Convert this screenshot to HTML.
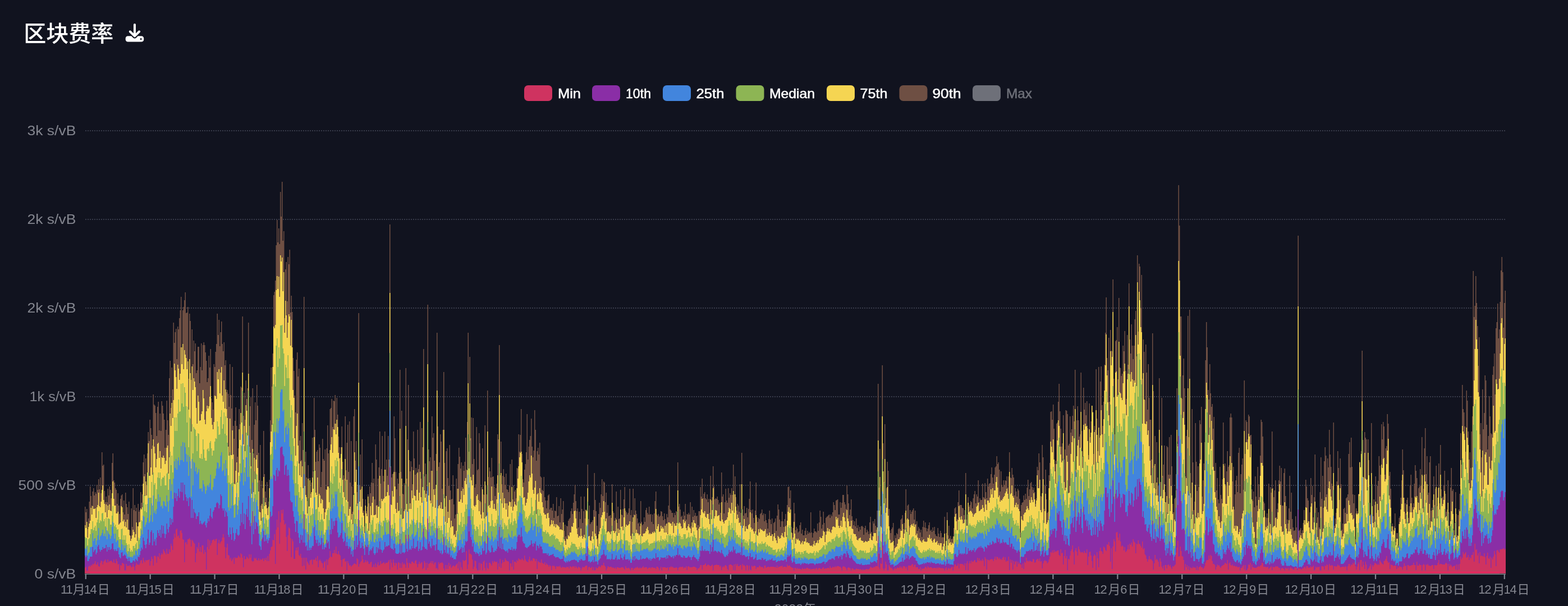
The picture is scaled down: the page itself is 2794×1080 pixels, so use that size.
<!DOCTYPE html>
<html lang="zh-CN"><head><meta charset="utf-8"><title>区块费率</title>
<style>
html,body{margin:0;padding:0;background:#11131f;}
body{width:2794px;height:1080px;overflow:hidden;position:relative;font-family:"Liberation Sans","Noto Sans CJK SC",sans-serif;}
h1{position:absolute;left:42.3px;top:30.5px;margin:0;font-size:40px;line-height:58px;font-weight:500;color:#fff;white-space:nowrap;}
</style></head><body>
<h1>区块费率</h1>
<svg width="2794" height="1080" viewBox="0 0 2794 1080" style="position:absolute;left:0;top:0"><line x1="152" x2="2683" y1="233" y2="233" stroke="#383b4a" stroke-width="2" stroke-dasharray="2 2"/><line x1="152" x2="2683" y1="391" y2="391" stroke="#383b4a" stroke-width="2" stroke-dasharray="2 2"/><line x1="152" x2="2683" y1="549" y2="549" stroke="#383b4a" stroke-width="2" stroke-dasharray="2 2"/><line x1="152" x2="2683" y1="707" y2="707" stroke="#383b4a" stroke-width="2" stroke-dasharray="2 2"/><line x1="152" x2="2683" y1="865" y2="865" stroke="#383b4a" stroke-width="2" stroke-dasharray="2 2"/><g><path fill="#6e4f43" d="M151 1022v-119h1.5v10h1.5v-6h1.5v36h1.5v-19h1.5v-30h1.5v-27h1.5v17h1.5v17h1.5v-25h1.5v-6h1.5v13h1.5v-6h1.5v3h1.5v-16h1.5v9h1.5v-19h1.5v18h1.5v-21h1.5v28h1.5v-73h1.5v24h1.5v-2h1.5v47h1.5v20h1.5v-10h1.5v10h1.5v-24h1.5v12h1.5v-16h1.5v6h1.5v15h1.5v-63h1.5v-17h1.5v48h1.5v4h1.5v10h1.5v3h1.5v25h1.5v-19h1.5v22h1.5v15h1.5v-27h1.5v-6h1.5v-2h1.5v32h1.5v-21h1.5v25h1.5v-39h1.5v20h1.5v6h1.5v12h1.5v-22h1.5v51h1.5v10h1.5v-49h1.5v33h1.5v-69h1.5v39h1.5v-9h1.5v11h1.5v-6h1.5v33h1.5v-40h1.5v14h1.5v-3h1.5v-32h1.5v19h1.5v-15h1.5v-57h1.5v-14h1.5v35h1.5v-28h1.5v48h1.5v-57h1.5v-38h1.5v16h1.5v-38h1.5v15h1.5v12h1.5v19h1.5v-91h1.5v18h1.5v2h1.5v13h1.5v41h1.5v-52h1.5v-9h1.5v51h1.5v-30h1.5v31h1.5v-53h1.5v8h1.5v14h1.5v11h1.5v50h1.5v-32h1.5v-52h1.5v35h1.5v26h1.5v-101h1.5v-31h1.5v84h1.5v-72h1.5v39h1.5v-119h1.5v36h1.5v-19h1.5v-6h1.5v54h1.5v-58h1.5v5h1.5v-20h1.5v-14h1.5v-24h1.5v90h1.5v-66h1.5v-6h1.5v-12h1.5v-14h1.5v37h1.5v-1h1.5v-10h1.5v128h1.5v-116h1.5v13h1.5v105h1.5v-90h1.5v62h1.5v-42h1.5v19h1.5v-14h1.5v53h1.5v-5h1.5v-42h3v65h1.5v-29h1.5v-42h1.5v48h1.5v-45h1.5v-5h1.5v5h1.5v13h1.5v15h1.5v38h1.5v-7h1.5v-40h1.5v21h1.5v-33h1.5v88h1.5v7h1.5v13h1.5v-81h1.5v5h1.5v-27h1.5v-14h1.5v-54h1.5v38h1.5v-27h1.5v47h1.5v-25h1.5v-19h1.5v40h1.5v13h1.5v-16h1.5v41h1.5v-9h1.5v57h1.5v-4h1.5v7h1.5v23h1.5v-76h1.5v55h1.5v24h1.5v-74h1.5v105h1.5v23h1.5v-32h1.5v-24h1.5v33h1.5v55h1.5v-15h1.5v-70h1.5v27h1.5v-67h1.5v2h1.5v-127h1.5v177h1.5v-41h1.5v48h1.5v-70h1.5v33h1.5v-19h1.5v-117h1.5v184h1.5v-35h1.5v-16h1.5v76h1.5v-92h1.5v116h1.5v-51h1.5v-40h1.5v32h1.5v-63h1.5v37h1.5v84h1.5v49h1.5v-63h1.5v108h1.5v-44h1.5v13h1.5v-102h1.5v77h1.5v31h1.5v11h1.5v-28h1.5v46h1.5v-11h1.5v-39h1.5v-106h1.5v-94h1.5v34h1.5v-59h1.5v-104h1.5v-6h1.5v-20h1.5v-63h1.5v-45h1.5v40h1.5v-25h1.5v28h1.5v-93h1.5v44h1.5v-62h1.5v105h1.5v-17h1.5v155h1.5v-87h1.5v-13h1.5v70h1.5v-79h1.5v13h1.5v-26h1.5v112h1.5v-30h1.5v29h1.5v82h1.5v23h1.5v44h1.5v30h1.5v-94h1.5v-13h1.5v43h1.5v-14h1.5v128h1.5v-8h1.5v43h1.5v-66h1.5v48h1.5v-273h1.5v294h1.5v-18h1.5v46h1.5v42h1.5v-64h1.5v73h1.5v-50h1.5v28h1.5v-20h1.5v-80h1.5v60h1.5v-131h1.5v57h1.5v57h1.5v-18h1.5v-3h1.5v20h1.5v-30h1.5v6h1.5v70h1.5v-27h1.5v-59h1.5v36h1.5v3h1.5v-20h1.5v71h1.5v-73h1.5v-41h1.5v50h1.5v62h1.5v-141h1.5v-2h1.5v-16h1.5v50h1.5v-47h1.5v1h1.5v-11h1.5v51h1.5v-46h1.5v30h1.5v39h1.5v19h1.5v19h1.5v-19h1.5v-37h1.5v63h1.5v24h1.5v6h1.5v-111h1.5v96h1.5v-49h1.5v-32h1.5v84h1.5v-90h1.5v109h1.5v-74h1.5v81h1.5v45h1.5v-170h1.5v-13h1.5v92h1.5v-35h1.5v91h1.5v-13h1.5v-306h1.5v307h1.5v-55h1.5v61h1.5v-88h1.5v106h1.5v21h1.5v28h1.5v-48h1.5v21h1.5v-8h1.5v-22h1.5v16h1.5v-30h1.5v12h1.5v-19h1.5v-35h1.5v36h1.5v-8h1.5v37h1.5v-98h1.5v27h1.5v81h1.5v-47h1.5v-20h1.5v-64h1.5v93h1.5v-26h1.5v-59h1.5v71h1.5v10h1.5v-89h1.5v68h1.5v-18h1.5v29h1.5v-71h1.5v42h1.5v-419h1.5v431h1.5v20h1.5v-6h1.5v-1h1.5v-102h1.5v39h1.5v60h1.5v31h1.5v-19h1.5v9h1.5v-19h1.5v-184h1.5v182h1.5v-109h1.5v148h1.5v1h1.5v-20h1.5v4h1.5v-209h1.5v197h1.5v-70h1.5v-97h1.5v134h1.5v20h1.5v-18h1.5v10h1.5v31h1.5v-94h1.5v48h1.5v29h1.5v-12h1.5v10h1.5v-78h1.5v70h1.5v-8h1.5v-76h1.5v101h1.5v-90h1.5v34h1.5v-175h1.5v227h1.5v-23h1.5v19h1.5v30h1.5v-332h1.5v258h1.5v21h1.5v-7h1.5v24h1.5v-97h1.5v38h1.5v-8h1.5v49h1.5v50h1.5v-62h1.5v-216h1.5v167h1.5v72h1.5v-8h1.5v-50h1.5v13h1.5v84h1.5v-105h1.5v-103h1.5v162h1.5v78h1.5v-99h1.5v-5h1.5v53h1.5v14h1.5v-73h1.5v81h1.5v16h1.5v-1h1.5v-42h1.5v52h1.5v25h1.5v-7h1.5v-64h1.5v18h1.5v-44h1.5v-29h1.5v16h1.5v21h1.5v-11h1.5v44h1.5v-38h1.5v9h1.5v-16h1.5v-43h1.5v57h1.5v-85h1.5v-159h1.5v212h1.5v-169h1.5v145h1.5v-37h1.5v83h1.5v-82h1.5v73h1.5v51h1.5v-6h1.5v-102h1.5v77h1.5v-2h1.5v-64h1.5v18h1.5v105h1.5v-27h1.5v-69h1.5v82h1.5v1h1.5v-124h1.5v107h1.5v16h1.5v-185h1.5v154h1.5v-17h1.5v7h1.5v11h1.5v-35h1.5v34h1.5v-1h1.5v18h1.5v17h1.5v-14h1.5v-8h1.5v-88h1.5v9h1.5v-168h1.5v232h1.5v-60h1.5v76h1.5v-15h1.5v-12h1.5v14h1.5v14h1.5v-20h1.5v28h1.5v1h1.5v4h1.5v-12h1.5v-38h1.5v67h1.5v-75h1.5v71h1.5v-25h1.5v11h1.5v-3h1.5v15h1.5v-54h1.5v1h1.5v-61h1.5v31h1.5v-30h1.5v-46h1.5v80h1.5v45h1.5v6h1.5v-23h1.5v-10h1.5v-21h1.5v-68h1.5v81h1.5v-23h1.5v-12h1.5v-7h1.5v-31h1.5v50h1.5v19h1.5v-12h1.5v-72h1.5v35h1.5v55h1.5v-17h1.5v-6h1.5v12h1.5v-21h1.5v60h1.5v2h1.5v22h1.5v2h1.5v-25h1.5v36h1.5v6h1.5v14h1.5v-14h1.5v-9h1.5v-2h1.5v27h1.5v-3h3v5h1.5v-12h1.5v25h1.5v-13h1.5v1h1.5v-25h1.5v34h1.5v-1h1.5v-17h1.5v29h1.5v-43h1.5v28h1.5v-8h1.5v-15h1.5v53h1.5v-11h1.5v21h1.5v-19h1.5v1h1.5v-10h1.5v-3h1.5v-2h1.5v-12h1.5v-5h1.5v10h1.5v-20h1.5v-15h1.5v-17h1.5v29h1.5v18h1.5v-5h1.5v34h1.5v-28h1.5v13h1.5v-40h1.5v22h1.5v25h1.5v-21h1.5v-26h1.5v39h1.5v-16h1.5v2h1.5v-82h1.5v97h1.5v-24h1.5v33h1.5v-3h1.5v-1h1.5v-3h1.5v-18h1.5v-66h1.5v48h1.5v20h1.5v26h1.5v22h1.5v-43h1.5v-20h1.5v9h1.5v-24h1.5v-27h1.5v30h1.5v-26h1.5v2h1.5v35h1.5v-17h1.5v36h1.5v-14h1.5v20h1.5v-1h1.5v-1h1.5v5h1.5v-60h1.5v48h1.5v3h1.5v14h1.5v-5h1.5v-47h1.5v56h1.5v-29h1.5v22h1.5v-1h1.5v-51h1.5v44h1.5v1h1.5v-11h1.5v-17h1.5v-22h1.5v42h1.5v3h1.5v4h1.5v-3h1.5v-8h1.5v-35h1.5v47h1.5v-9h1.5v21h1.5v-59h1.5v46h1.5v-29h1.5v22h1.5v6h1.5v8h1.5v9h1.5v-2h1.5v7h1.5v-45h1.5v37h1.5v6h1.5v-2h1.5v-12h1.5v8h1.5v-21h1.5v-4h1.5v9h1.5v3h1.5v-14h1.5v14h1.5v-1h1.5v14h1.5v-13h1.5v17h1.5v-19h1.5v-22h1.5v-17h1.5v41h1.5v2h1.5v-3h1.5v5h1.5v-2h1.5v-8h1.5v1h1.5v8h1.5v7h1.5v-12h1.5v10h1.5v9h1.5v-18h1.5v6h1.5v-21h1.5v-37h1.5v44h1.5v2h1.5v4h3v8h1.5v-8h1.5v4h1.5v-7h1.5v1h1.5v-88h1.5v79h1.5v-5h1.5v10h1.5v13h1.5v-2h1.5v7h1.5v-14h1.5v7h1.5v-21h1.5v28h1.5v-10h1.5v1h1.5v-3h1.5v3h1.5v-22h1.5v43h1.5v-35h1.5v18h1.5v-12h1.5v10h1.5v-5h1.5v6h1.5v-1h1.5v17h1.5v-25h3v-43h1.5v17h1.5v-32h1.5v35h1.5v-8h1.5v-3h1.5v11h1.5v2h1.5v-9h1.5v14h1.5v-6h1.5v25h1.5v-66h1.5v44h1.5v-6h1.5v-55h1.5v36h1.5v23h1.5v-2h1.5v1h1.5v-4h1.5v6h1.5v8h1.5v-3h1.5v18h1.5v-72h1.5v43h1.5v-4h1.5v34h1.5v-20h1.5v-24h1.5v21h1.5v4h1.5v-26h1.5v17h1.5v-8h1.5v3h1.5v-12h1.5v12h1.5v-54h1.5v53h1.5v-32h1.5v37h1.5v24h1.5v-12h1.5v3h1.5v11h1.5v-49h1.5v51h1.5v-107h1.5v101h1.5v11h1.5v-17h1.5v13h1.5v-1h1.5v-9h1.5v17h1.5v-15h1.5v-18h1.5v-31h1.5v51h1.5v6h1.5v-7h1.5v15h1.5v9h1.5v-22h1.5v-50h1.5v62h1.5v8h1.5v-7h1.5v2h1.5v-9h1.5v-2h1.5v-6h1.5v10h1.5v-3h1.5v14h1.5v-13h1.5v11h1.5v5h1.5v10h1.5v-17h1.5v-15h1.5v16h1.5v8h1.5v-10h1.5v28h1.5v-20h1.5v-2h1.5v-6h1.5v22h1.5v-27h1.5v-20h1.5v9h1.5v18h1.5v13h1.5v-10h1.5v-17h1.5v17h1.5v10h1.5v-14h1.5v-9h1.5v20h1.5v-36h1.5v-32h1.5v-1h1.5v21h1.5v-14h1.5v65h1.5v11h1.5v-9h1.5v-45h1.5v19h1.5v30h1.5v-6h1.5v3h1.5v7h1.5v-2h1.5v-11h1.5v-5h1.5v20h1.5v-7h1.5v10h3v-8h1.5v-5h1.5v12h1.5v-7h1.5v5h1.5v-3h1.5v2h1.5v-37h1.5v36h1.5v9h1.5v-8h1.5v-8h1.5v5h3v2h1.5v-16h1.5v13h1.5v-15h1.5v-21h1.5v11h1.5v21h1.5v-7h1.5v-23h1.5v20h1.5v15h1.5v-24h1.5v-2h1.5v-1h1.5v-2h1.5v-1h1.5v6h1.5v-6h1.5v3h1.5v-7h1.5v-18h1.5v5h1.5v9h1.5v-17h1.5v-1h1.5v-1h1.5v27h3v-22h1.5v10h1.5v-9h1.5v-14h3v13h1.5v4h1.5v8h1.5v-42h1.5v16h1.5v16h1.5v21h1.5v-10h1.5v-18h1.5v30h1.5v7h1.5v9h1.5v-7h1.5v9h1.5v-14h1.5v17h1.5v-5h1.5v11h1.5v-8h1.5v5h1.5v-6h1.5v-1h1.5v2h1.5v14h1.5v-12h1.5v-4h1.5v12h1.5v-5h1.5v3h1.5v5h1.5v-21h1.5v-10h1.5v27h1.5v7h1.5v-26h1.5v4h1.5v-8h1.5v12h1.5v7h1.5v-34h1.5v-226h1.5v185h1.5v-69h1.5v102h1.5v15h1.5v-266h1.5v139h1.5v69h1.5v-103h1.5v132h1.5v-18h1.5v-47h1.5v16h1.5v68h1.5v38h1.5v5h1.5v-7h1.5v-3h1.5v-8h1.5v40h1.5v-18h1.5v5h1.5v-9h1.5v2h1.5v-9h1.5v-2h1.5v2h1.5v-17h1.5v-2h1.5v-6h1.5v25h1.5v-11h1.5v-18h1.5v-42h1.5v54h1.5v-25h1.5v-2h1.5v38h1.5v-28h1.5v7h1.5v-4h1.5v-3h1.5v-3h1.5v20h1.5v-16h1.5v24h1.5v-5h1.5v17h1.5v-7h1.5v3h1.5v7h1.5v-5h1.5v13h1.5v-18h1.5v-11h1.5v12h1.5v-9h1.5v10h1.5v6h1.5v-5h1.5v-6h1.5v-5h1.5v15h1.5v-2h1.5v4h1.5v-8h1.5v6h1.5v-7h1.5v13h1.5v3h1.5v1h1.5v-15h1.5v10h1.5v6h1.5v-11h1.5v4h1.5v8h1.5v-1h1.5v1h1.5v-37h1.5v52h1.5v-23h1.5v-37h1.5v41h1.5v-17h1.5v22h1.5v-4h1.5v6h1.5v-1h1.5v-4h1.5v-15h1.5v-35h1.5v-2h1.5v11h1.5v10h1.5v-30h1.5v-21h1.5v26h4.5v5h1.5v1h1.5v12h1.5v-9h1.5v-66h1.5v83h1.5v-9h1.5v-31h1.5v17h1.5v-3h1.5v-7h1.5v2h1.5v11h1.5v-18h1.5v-7h1.5v-6h1.5v22h1.5v-16h1.5v4h1.5v-29h1.5v39h1.5v-7h1.5v3h3v-29h1.5v24h1.5v1h1.5v-26h1.5v16h1.5v11h1.5v-35h1.5v14h1.5v-5h1.5v-1h1.5v-16h1.5v-12h1.5v18h1.5v11h1.5v-16h1.5v-13h1.5v-2h1.5v-18h1.5v14h1.5v-3h1.5v13h1.5v39h1.5v-36h1.5v24h1.5v4h1.5v-12h1.5v8h1.5v-8h1.5v1h1.5v-8h1.5v20h1.5v-20h1.5v-43h1.5v45h1.5v1h1.5v-18h1.5v12h1.5v5h1.5v32h1.5v-13h1.5v6h1.5v9h1.5v-14h1.5v3h1.5v15h1.5v60h1.5v-49h1.5v-4h1.5v-1h1.5v-12h1.5v8h1.5v-11h1.5v9h1.5v-20h1.5v-14h1.5v29h1.5v-12h1.5v-11h1.5v-2h1.5v9h1.5v5h1.5v-4h1.5v8h1.5v21h1.5v-10h1.5v-56h1.5v6h1.5v-30h1.5v16h1.5v60h1.5v1h1.5v-92h1.5v22h1.5v92h1.5v-41h1.5v-29h1.5v53h1.5v24h1.5v-2h1.5v-65h1.5v-22h1.5v-91h1.5v-1h1.5v15h1.5v-27h1.5v43h1.5v63h1.5v-6h1.5v-66h1.5v-2h1.5v-37h1.5v-32h1.5v49h1.5v31h1.5v32h1.5v-6h1.5v-50h1.5v79h1.5v-18h1.5v-70h1.5v1h1.5v6h1.5v56h1.5v-3h1.5v-49h1.5v29h1.5v-6h1.5v-24h1.5v-18h1.5v28h1.5v-92h1.5v178h1.5v-88h1.5v-25h1.5v25h1.5v29h1.5v-4h1.5v-110h1.5v104h1.5v46h1.5v-123h1.5v39h1.5v-12h1.5v22h1.5v-25h1.5v48h1.5v48h1.5v-92h1.5v60h1.5v-28h1.5v-28h1.5v11h1.5v75h1.5v-50h1.5v7h1.5v-108h1.5v88h1.5v58h1.5v-150h1.5v126h1.5v-100h1.5v-27h1.5v69h1.5v37h1.5v-43h1.5v-66h1.5v-57h1.5v-63h1.5v108h1.5v22h1.5v-58h1.5v114h1.5v-128h1.5v37h1.5v1h1.5v-128h1.5v177h1.5v99h1.5v-166h1.5v-2h1.5v-23h1.5v93h1.5v-145h1.5v124h1.5v1h1.5v14h1.5v-4h1.5v-50h1.5v10h1.5v-36h1.5v71h1.5v50h1.5v-114h1.5v53h1.5v-145h1.5v100h1.5v25h1.5v-52h1.5v38h1.5v24h1.5v-24h1.5v-47h1.5v-15h1.5v81h1.5v-180h1.5v136h1.5v-121h1.5v5h1.5v74h1.5v-59h1.5v185h1.5v-70h1.5v22h1.5v86h1.5v-99h1.5v50h1.5v66h1.5v-81h1.5v60h1.5v39h3v71h1.5v-225h1.5v103h1.5v133h1.5v-53h1.5v95h1.5v-84h1.5v63h1.5v15h1.5v-192h1.5v185h3v-150h1.5v139h1.5v-20h1.5v-34h1.5v83h1.5v18h1.5v-100h1.5v2h1.5v49h1.5v-67h1.5v67h1.5v-71h1.5v56h1.5v67h1.5v15h1.5v-24h1.5v-2h1.5v-42h1.5v-153h1.5v99h1.5v-461h1.5v72h1.5v162h3v147h1.5v-42h1.5v-30h1.5v53h1.5v157h1.5v-72h1.5v-11h1.5v-203h1.5v216h1.5v-227h1.5v291h1.5v44h1.5v-158h1.5v95h1.5v85h1.5v-15h1.5v-140h1.5v69h1.5v52h1.5v-44h1.5v37h1.5v-119h1.5v7h1.5v-31h1.5v160h1.5v-29h1.5v-30h1.5v-38h1.5v-146h1.5v-68h1.5v45h1.5v76h1.5v17h1.5v-63h1.5v52h1.5v24h1.5v-5h1.5v44h1.5v-21h1.5v96h1.5v-14h1.5v49h1.5v-22h1.5v38h1.5v7h1.5v-65h1.5v50h1.5v7h1.5v-35h1.5v-101h1.5v77h1.5v-4h1.5v40h1.5v-26h1.5v-36h1.5v28h1.5v-3h1.5v-85h1.5v-7h1.5v7h1.5v114h1.5v-26h1.5v76h1.5v-27h1.5v-25h1.5v-8h1.5v29h1.5v-70h1.5v-9h1.5v81h1.5v-34h1.5v-17h1.5v-11h1.5v56h1.5v-195h1.5v131h1.5v-60h1.5v3h1.5v31h1.5v-44h1.5v3h1.5v34h1.5v-1h1.5v97h1.5v21h1.5v-17h1.5v28h1.5v-55h1.5v36h1.5v16h1.5v-69h1.5v31h1.5v23h1.5v-74h1.5v-64h1.5v4h1.5v26h1.5v116h1.5v3h1.5v24h1.5v2h1.5v-8h1.5v8h1.5v-61h1.5v69h1.5v-63h1.5v10h1.5v-109h1.5v101h1.5v16h1.5v-12h1.5v-18h1.5v66h1.5v-15h1.5v-10h1.5v-41h1.5v-26h1.5v28h1.5v-24h1.5v67h3v-58h1.5v-8h1.5v49h1.5v18h1.5v24h1.5v7h1.5v-27h1.5v-58h1.5v64h1.5v-34h1.5v47h1.5v15h1.5v6h1.5v-1h1.5v-25h1.5v20h1.5v25h1.5v-545h1.5v526h1.5v-2h1.5v-3h1.5v9h1.5v-5h1.5v-13h1.5v-23h1.5v18h1.5v-72h1.5v12h1.5v21h1.5v4h1.5v37h1.5v-16h1.5v-61h1.5v30h1.5v-16h1.5v56h1.5v-36h1.5v-76h1.5v130h1.5v-35h1.5v17h1.5v-9h1.5v27h1.5v-63h1.5v-62h1.5v74h1.5v-41h1.5v57h1.5v-83h1.5v-25h1.5v15h1.5v69h1.5v-64h1.5v16h1.5v-67h1.5v44h1.5v22h1.5v30h1.5v4h1.5v-113h1.5v184h1.5v-13h1.5v-10h1.5v-56h1.5v-54h1.5v30h1.5v57h1.5v-74h1.5v46h1.5v81h1.5v-11h1.5v-26h1.5v-2h1.5v9h1.5v-26h1.5v-2h1.5v-5h1.5v-72h1.5v-21h1.5v45h1.5v-53h1.5v52h1.5v49h1.5v16h1.5v-15h1.5v79h1.5v-55h1.5v5h1.5v4h1.5v-35h1.5v-57h1.5v9h1.5v-28h1.5v-179h1.5v159h1.5v67h1.5v-81h1.5v10h1.5v3h1.5v71h1.5v-71h1.5v37h1.5v76h1.5v21h1.5v-163h1.5v109h1.5v57h1.5v-30h1.5v10h1.5v-51h1.5v65h1.5v-48h1.5v-9h1.5v-44h1.5v17h1.5v16h1.5v-90h1.5v27h1.5v-31h1.5v8h1.5v86h1.5v-47h1.5v-4h1.5v-57h1.5v17h1.5v93h1.5v-7h1.5v30h1.5v67h1.5v-5h1.5v11h1.5v-6h1.5v-23h1.5v51h1.5v-16h3v22h1.5v-49h1.5v-3h1.5v-33h1.5v-31h1.5v-55h1.5v37h1.5v49h1.5v10h1.5v18h1.5v-24h1.5v-4h1.5v36h1.5v-21h1.5v-37h1.5v-19h1.5v41h1.5v17h1.5v-7h1.5v-35h1.5v-33h1.5v10h1.5v13h1.5v43h1.5v-25h1.5v-3h1.5v-31h1.5v30h1.5v-87h1.5v69h1.5v23h1.5v-72h1.5v-36h1.5v82h1.5v-32h1.5v69h1.5v-4h1.5v-54h1.5v-11h1.5v97h1.5v-5h1.5v-14h1.5v-42h1.5v51h1.5v-29h1.5v-41h1.5v72h1.5v-32h1.5v-44h1.5v71h1.5v-104h1.5v79h1.5v15h1.5v-2h1.5v-20h1.5v-26h1.5v41h1.5v32h1.5v-4h1.5v-52h1.5v57h1.5v33h1.5v-77h1.5v-35h1.5v41h1.5v-3h1.5v73h1.5v-13h1.5v-55h1.5v39h1.5v38h1.5v-36h1.5v-10h1.5v-28h1.5v-108h1.5v56h1.5v-142h1.5v43h1.5v6h1.5v25h1.5v45h1.5v-109h1.5v18h1.5v55h1.5v50h1.5v-13h1.5v28h1.5v-65h1.5v-27h1.5v-259h1.5v82h1.5v-20h1.5v-53h1.5v48h1.5v41h1.5v71h1.5v-51h1.5v173h1.5v-20h1.5v61h1.5v-121h1.5v71h1.5v-29h1.5v-67h1.5v9h1.5v79h1.5v44h1.5v-24h1.5v-71h1.5v36h1.5v30h1.5v2h1.5v-106h1.5v-15h1.5v-23h1.5v73h1.5v-118h1.5v-11h1.5v-33h1.5v62h1.5v-16h1.5v-49h1.5v-56h1.5v-24h1.5v27h1.5v99h1.5v-44h1.5v-22h1.5V1022z"/><path fill="#f5d552" d="M151 1022v-86h1.5v5h1.5v-11h1.5v28h1.5v-19h1.5v-6h1.5v-5h1.5v-23h1.5v12h1.5v-15h1.5v5h3v-1h1.5v17h1.5v-19h1.5v-4h1.5v-22h1.5v24h1.5v2h1.5v-10h1.5v-21h1.5v-8h1.5v26h1.5v7h1.5v15h1.5v-14h1.5v23h1.5v-21h1.5v8h1.5v-10h1.5v11h1.5v1h1.5v-32h1.5v-21h1.5v31h1.5v12h3v14h3v-3h1.5v23h1.5v-2h1.5v-2h1.5v-29h1.5v2h1.5v25h1.5v-3h1.5v12h1.5v-8h1.5v10h1.5v-14h1.5v18h3v10h1.5v10h1.5v-4h1.5v-6h1.5v-10h1.5v4h1.5v10h1.5v-6h1.5v-21h1.5v33h1.5v-26h1.5v-7h1.5v-1h1.5v-24h1.5v2h1.5v-4h1.5v-42h1.5v-13h1.5v35h1.5v-26h1.5v25h1.5v-41h1.5v-52h1.5v58h3v-15h1.5v-33h1.5v46h1.5v-63h1.5v13h1.5v12h1.5v25h1.5v-15h1.5v-27h1.5v-2h1.5v27h1.5v-12h1.5v31h1.5v-20h1.5v1h1.5v-4h1.5v4h1.5v11h1.5v-6h1.5v-23h1.5v-4h1.5v50h1.5v-29h1.5v-78h1.5v22h1.5v-41h1.5v27h1.5v-32h1.5v-65h1.5v12h1.5v12h1.5v21h1.5v-43h1.5v7h1.5v20h1.5v-11h1.5v-47h1.5v30h1.5v-36h1.5v45h1.5v-34h1.5v8h1.5v6h1.5v20h1.5v-14h1.5v86h1.5v-90h1.5v25h1.5v104h1.5v-116h1.5v42h1.5v-21h1.5v6h1.5v10h1.5v37h1.5v28h1.5v-50h1.5v11h1.5v34h1.5v-1h1.5v-11h1.5v-5h1.5v-38h1.5v15h1.5v38h1.5v8h1.5v-23h1.5v-10h1.5v5h1.5v-4h1.5v-17h1.5v-19h1.5v57h1.5v12h1.5v8h1.5v-13h1.5v-47h1.5v1h1.5v5h1.5v-48h1.5v13h1.5v-18h1.5v43h1.5v-37h1.5v-10h1.5v51h1.5v11h1.5v-38h1.5v50h1.5v-34h1.5v35h1.5v16h1.5v51h1.5v16h1.5v-66h1.5v65h3v-44h1.5v43h1.5v52h1.5v1h1.5v-24h1.5v-15h1.5v36h1.5v-18h1.5v-77h1.5v19h1.5v-48h1.5v17h1.5v-89h1.5v128h1.5v-33h1.5v45h1.5v-82h1.5v10h1.5v44h1.5v-110h1.5v130h1.5v11h1.5v24h1.5v49h1.5v-80h1.5v77h1.5v-61h1.5v38h1.5v-35h1.5v-8h1.5v23h1.5v42h1.5v36h1.5v1h1.5v15h1.5v-30h1.5v9h1.5v-57h1.5v52h1.5v-7h1.5v5h1.5v6h1.5v12h1.5v-15h1.5v-33h1.5v-82h1.5v-19h1.5v-12h1.5v-103h1.5v-72h1.5v3h1.5v-6h1.5v-62h1.5v-25h1.5v23h1.5v-22h1.5v36h1.5v-74h1.5v11h1.5v-7h1.5v60h1.5v-34h1.5v108h1.5v-57h1.5v26h1.5v40h1.5v-27h1.5v-15h1.5v4h1.5v52h1.5v-46h1.5v49h1.5v76h1.5v14h1.5v72h1.5v31h1.5v-53h1.5v-22h1.5v57h1.5v32h1.5v21h1.5v-25h1.5v28h1.5v-19h1.5v39h1.5v-214h1.5v210h1.5v16h1.5v4h1.5v29h1.5v-62h1.5v50h1.5v-47h1.5v31h1.5v-10h1.5v-26h1.5v20h1.5v-92h1.5v60h1.5v39h1.5v4h1.5v-31h1.5v53h1.5v-24h1.5v3h1.5v14h1.5v-8h1.5v2h1.5v15h1.5v19h1.5v-12h1.5v-6h1.5v-34h1.5v-6h3v28h1.5v-93h1.5v-10h1.5v-13h1.5v28h1.5v-42h1.5v1h1.5v-11h1.5v19h1.5v-26h1.5v13h1.5v46h1.5v10h1.5v35h1.5v-43h1.5v-12h1.5v58h1.5v22h1.5v9h1.5v-68h1.5v73h1.5v-36h1.5v39h1.5v25h1.5v-12h1.5v-4h1.5v23h1.5v-10h1.5v18h1.5v-52h1.5v-76h1.5v53h1.5v-22h1.5v65h1.5v-5h1.5v-215h1.5v212h1.5v-21h1.5v30h1.5v-36h1.5v47h1.5v5h1.5v31h1.5v-49h1.5v14h1.5v5h1.5v-35h1.5v61h1.5v-14h1.5v-30h1.5v16h1.5v-22h1.5v-11h1.5v33h3v-1h1.5v-16h1.5v22h1.5v-20h3v-55h1.5v58h1.5v-17h1.5v4h1.5v-3h1.5v-2h1.5v-51h1.5v48h1.5v-1h1.5v-7h1.5v-13h1.5v19h1.5v-361h1.5v377h1.5v1h1.5v-25h1.5v10h1.5v-44h1.5v26h1.5v40h1.5v7h1.5v-18h1.5v15h1.5v-1h1.5v-146h1.5v153h1.5v-64h1.5v72h1.5v-1h1.5v-13h1.5v-3h1.5v-149h1.5v139h1.5v14h1.5v-110h1.5v105h1.5v-10h1.5v10h1.5v-33h1.5v14h1.5v-50h1.5v45h1.5v1h1.5v8h1.5v-19h1.5v-31h1.5v50h1.5v-14h1.5v-37h1.5v45h1.5v10h1.5v-28h1.5v-142h1.5v148h1.5v13h1.5v-7h1.5v14h1.5v-245h1.5v234h1.5v-23h1.5v32h1.5v5h1.5v-58h1.5v64h1.5v-31h1.5v10h1.5v23h1.5v-41h1.5v-168h1.5v210h1.5v-4h1.5v-2h1.5v6h1.5v-11h1.5v12h3v-141h1.5v122h1.5v42h1.5v-46h1.5v48h1.5v-20h1.5v11h1.5v-32h1.5v49h1.5v-12h1.5v10h3v16h1.5v-2h1.5v5h1.5v-11h1.5v-30h1.5v-45h1.5v23h3v-4h1.5v-15h1.5v21h1.5v-25h1.5v11h1.5v-25h1.5v-5h1.5v11h1.5v-25h1.5v-155h1.5v152h1.5v-116h1.5v131h1.5v6h1.5v9h1.5v-19h1.5v55h1.5v2h1.5v-3h1.5v-16h1.5v-3h1.5v10h1.5v20h1.5v-18h1.5v24h1.5v7h1.5v-52h1.5v41h1.5v11h1.5v-66h1.5v63h1.5v-2h1.5v-150h1.5v133h1.5v-2h1.5v5h1.5v-12h1.5v-26h1.5v25h1.5v15h1.5v-9h1.5v9h1.5v3h1.5v-20h1.5v-43h1.5v31h1.5v-174h1.5v185h1.5v-46h1.5v54h1.5v-19h1.5v27h1.5v-17h1.5v9h1.5v11h1.5v-11h1.5v24h1.5v-20h1.5v-7h1.5v1h1.5v8h1.5v-35h1.5v42h1.5v-7h1.5v-9h1.5v5h1.5v2h1.5v-31h1.5v-17h1.5v-22h1.5v-16h1.5v-8h1.5v-2h1.5v19h1.5v44h1.5v19h1.5v-1h1.5v15h1.5v-5h1.5v-7h1.5v-11h1.5v-20h1.5v-11h1.5v4h1.5v-39h1.5v32h1.5v29h1.5v7h1.5v-11h1.5v-12h1.5v59h1.5v-35h1.5v-2h1.5v15h1.5v-24h1.5v8h1.5v2h1.5v15h1.5v9h1.5v10h1.5v3h3v7h1.5v-9h1.5v-1h1.5v9h1.5v15h1.5v-3h1.5v-8h1.5v7h1.5v-6h1.5v10h1.5v-4h1.5v6h1.5v-6h1.5v2h1.5v1h1.5v2h1.5v5h1.5v-1h1.5v1h1.5v1h1.5v-14h1.5v30h1.5v3h1.5v7h1.5v-11h1.5v1h1.5v-7h1.5v2h1.5v-7h3v-11h1.5v1h1.5v-7h1.5v-21h1.5v-1h1.5v14h1.5v18h1.5v10h1.5v6h1.5v-3h1.5v1h1.5v-14h1.5v13h1.5v5h1.5v-3h1.5v-4h1.5v6h1.5v-50h1.5v2h1.5v-41h1.5v86h1.5v-1h1.5v8h1.5v1h1.5v-8h1.5v-9h1.5v14h1.5v-40h1.5v30h1.5v4h1.5v6h1.5v13h1.5v-22h1.5v-5h1.5v-6h1.5v-19h1.5v-4h1.5v-5h1.5v-20h1.5v19h1.5v17h1.5v-5h1.5v25h1.5v-2h3v2h1.5v3h1.5v-5h1.5v-51h1.5v50h3v4h1.5v-3h1.5v-21h1.5v29h1.5v-13h1.5v8h1.5v-6h1.5v-36h1.5v31h1.5v-1h1.5v7h1.5v-23h1.5v-16h1.5v33h1.5v-4h1.5v2h1.5v-1h1.5v-2h1.5v-5h1.5v26h1.5v6h1.5v-10h1.5v-29h1.5v33h1.5v-37h1.5v32h1.5v-6h1.5v6h1.5v1h1.5v3h1.5v-2h1.5v-19h1.5v22h1.5v1h1.5v-5h3v-1h1.5v-3h1.5v-5h1.5v-3h1.5v6h1.5v7h1.5v-2h1.5v2h1.5v-1h1.5v-3h1.5v2h1.5v-3h1.5v2h1.5v-42h1.5v36h1.5v-5h1.5v-4h1.5v14h1.5v-1h1.5v-10h1.5v5h1.5v-3h1.5v3h1.5v7h1.5v-12h1.5v12h1.5v-16h1.5v19h1.5v-21h3v2h3v4h1.5v-7h1.5v20h1.5v-17h1.5v4h3v-5h1.5v-58h1.5v59h1.5v-2h1.5v2h1.5v5h1.5v4h1.5v-1h1.5v-15h1.5v6h1.5v-3h1.5v12h1.5v4h1.5v-7h1.5v-4h1.5v6h1.5v2h1.5v8h1.5v-19h1.5v9h1.5v-13h1.5v5h1.5v1h1.5v7h1.5v5h1.5v19h1.5v-22h1.5v-3h1.5v-21h1.5v-10h1.5v-19h1.5v24h1.5v2h1.5v-4h1.5v10h1.5v2h1.5v-7h3v9h1.5v9h1.5v-44h1.5v35h1.5v-16h1.5v-39h1.5v54h1.5v-4h1.5v-11h1.5v1h1.5v10h1.5v-1h1.5v-1h1.5v10h1.5v1h1.5v-34h1.5v31h1.5v4h1.5v3h1.5v-5h1.5v-1h1.5v-1h1.5v-4h1.5v-9h1.5v-8h1.5v2h1.5v8h1.5v-19h1.5v14h1.5v-35h1.5v39h1.5v-33h1.5v22h1.5v22h1.5v-8h1.5v6h1.5v9h1.5v-1h1.5v6h1.5v-74h1.5v78h1.5v-4h1.5v-12h1.5v22h1.5v-9h1.5v4h1.5v1h1.5v-7h1.5v-2h1.5v-21h1.5v27h1.5v4h1.5v-2h1.5v5h1.5v4h1.5v-4h1.5v-29h1.5v35h1.5v2h1.5v-12h1.5v6h1.5v-7h1.5v2h3v2h1.5v1h1.5v-1h1.5v-3h1.5v14h1.5v-6h1.5v4h1.5v-1h1.5v-5h1.5v6h3v-3h1.5v12h1.5v-8h1.5v-6h1.5v9h1.5v4h1.5v5h1.5v-13h1.5v2h1.5v3h1.5v-1h1.5v-5h1.5v-4h1.5v6h1.5v2h1.5v-10h1.5v-10h1.5v19h1.5v-29h1.5v-16h1.5v-8h1.5v10h1.5v-6h1.5v41h1.5v13h1.5v-4h1.5v-28h1.5v21h1.5v18h1.5v-9h1.5v2h1.5v-2h1.5v3h1.5v1h1.5v6h1.5v-3h1.5v-3h1.5v6h1.5v-5h3v-6h1.5v8h1.5v-1h1.5v2h3v4h1.5v1h1.5v-1h1.5v2h1.5v-4h1.5v-6h1.5v8h1.5v-4h1.5v-1h1.5v-4h1.5v5h1.5v-6h1.5v-5h1.5v2h3v-4h1.5v-9h1.5v2h1.5v18h1.5v-13h1.5v-6h1.5v-6h1.5v6h1.5v-4h1.5v5h1.5v2h1.5v-6h1.5v-5h1.5v-1h1.5v1h1.5v1h1.5v-19h1.5v5h1.5v-3h1.5v14h1.5v4h1.5v-4h1.5v-9h1.5v11h1.5v-18h1.5v-7h1.5v8h1.5v7h1.5v11h1.5v-31h1.5v15h1.5v5h1.5v9h3v-10h1.5v14h1.5v1h1.5v8h1.5v1h3v4h1.5v6h1.5v1h1.5v-3h1.5v-1h1.5v-1h1.5v5h1.5v1h3v3h1.5v-1h1.5v-2h1.5v1h1.5v1h1.5v-2h3v-5h1.5v-8h1.5v11h1.5v1h1.5v-7h1.5v-6h4.5v14h1.5v-24h1.5v-155h1.5v125h1.5v-60h1.5v88h1.5v2h1.5v-198h1.5v98h1.5v57h1.5v-79h1.5v96h1.5v-9h1.5v-37h1.5v51h1.5v19h1.5v24h1.5v6h1.5v-1h1.5v-1h1.5v-2h1.5v20h1.5v-7h1.5v-2h1.5v-1h1.5v-5h1.5v-8h3v-3h1.5v-12h3v-12h1.5v25h1.5v-8h1.5v-7h1.5v-34h1.5v38h1.5v-24h1.5v2h1.5v27h1.5v-13h1.5v-4h1.5v-2h1.5v3h1.5v-4h1.5v6h1.5v-4h1.5v19h1.5v-3h1.5v7h1.5v4h1.5v-3h1.5v4h1.5v2h1.5v2h1.5v-4h1.5v-2h1.5v4h3v1h1.5v-1h1.5v-7h1.5v1h1.5v-6h1.5v8h1.5v-2h1.5v5h1.5v3h1.5v-5h1.5v-2h1.5v7h1.5v-1h1.5v-2h1.5v7h1.5v-3h1.5v4h1.5v-4h3v12h1.5v-6h1.5v-5h1.5v-18h1.5v30h1.5v-17h1.5v-37h1.5v45h1.5v-11h1.5v7h1.5v-2h1.5v5h1.5v-4h1.5v2h1.5v-13h1.5v-35h1.5v-5h1.5v13h1.5v16h1.5v-18h1.5v-25h1.5v20h1.5v4h1.5v-6h1.5v6h1.5v7h1.5v-1h1.5v-6h1.5v-45h1.5v56h3v-41h1.5v17h1.5v-2h1.5v-1h1.5v2h1.5v3h1.5v6h1.5v-4h1.5v-2h1.5v-1h1.5v-11h1.5v-2h1.5v-5h1.5v15h1.5v-1h1.5v-2h1.5v-1h1.5v-7h1.5v5h1.5v7h1.5v-22h1.5v9h1.5v10h1.5v-17h3v4h1.5v-9h1.5v-15h1.5v9h1.5v-11h1.5v17h1.5v-13h3v-15h1.5v-9h1.5v19h1.5v17h1.5v-3h1.5v11h1.5v-3h1.5v1h1.5v-3h1.5v-3h1.5v-2h1.5v-5h1.5v-3h1.5v-5h1.5v9h1.5v9h1.5v-48h1.5v40h1.5v-2h1.5v-14h1.5v19h1.5v3h1.5v17h1.5v-4h1.5v-4h1.5v8h1.5v-5h1.5v8h1.5v4h1.5v47h1.5v-38h1.5v6h1.5v2h1.5v-11h1.5v-3h1.5v-1h1.5v-5h1.5v-6h1.5v4h1.5v3h1.5v-18h1.5v5h1.5v-10h1.5v5h1.5v4h1.5v-16h1.5v11h1.5v13h1.5v-11h1.5v-45h1.5v23h3v-15h1.5v54h1.5v4h1.5v-34h1.5v-25h1.5v78h1.5v-21h1.5v-31h1.5v54h1.5v-3h1.5v-4h1.5v-57h1.5v-13h1.5v-70h1.5v9h1.5v10h1.5v-23h1.5v36h1.5v21h1.5v22h1.5v-35h1.5v-42h1.5v-36h1.5v10h1.5v37h1.5v14h1.5v14h1.5v-3h1.5v-49h1.5v87h1.5v15h1.5v-5h1.5v-57h1.5v11h1.5v56h1.5v-1h1.5v-12h1.5v-57h1.5v-21h1.5v-11h1.5v46h1.5v-42h1.5v-52h1.5v121h1.5v-37h1.5v-19h1.5v-10h1.5v46h1.5v-32h1.5v-64h1.5v70h1.5v30h1.5v-77h1.5v9h1.5v-11h1.5v5h1.5v-1h1.5v27h1.5v33h1.5v-54h1.5v24h1.5v-18h1.5v-48h1.5v12h1.5v93h1.5v-58h1.5v73h1.5v-112h1.5v44h1.5v50h1.5v-63h1.5v50h1.5v-36h1.5v-45h1.5v43h1.5v23h1.5v-50h1.5v-51h1.5v-45h1.5v-55h1.5v73h1.5v48h1.5v23h1.5v18h1.5v-132h1.5v25h1.5v-15h1.5v-80h1.5v152h1.5v102h1.5v-146h1.5v-2h1.5v45h1.5v-3h1.5v-95h1.5v90h1.5v2h1.5v8h1.5v4h1.5v-30h1.5v-21h1.5v-14h1.5v73h1.5v19h1.5v-64h1.5v-10h1.5v-120h1.5v121h1.5v13h1.5v-17h1.5v13h1.5v13h1.5v-11h1.5v4h1.5v-85h1.5v91h1.5v-185h1.5v111h1.5v-94h1.5v15h1.5v48h1.5v9h1.5v163h1.5v-90h1.5v47h1.5v43h1.5v1h1.5v-5h1.5v24h1.5v-8h1.5v28h1.5v26h1.5v26h1.5v14h1.5v-175h1.5v175h1.5v9h1.5v-43h1.5v56h1.5v-23h1.5v23h1.5v11h1.5v-128h1.5v119h1.5v-1h1.5v-90h1.5v94h1.5v-15h1.5v-10h1.5v32h1.5v35h1.5v-46h1.5v32h1.5v-18h1.5v-45h1.5v58h1.5v-45h1.5v17h1.5v33h1.5v32h1.5v-22h1.5v3h1.5v-55h1.5v-108h1.5v30h1.5v-331h1.5v35h1.5v134h1.5v75h1.5v82h1.5v-46h1.5v-11h1.5v23h1.5v123h1.5v-28h1.5v14h1.5v-174h1.5v191h1.5v-208h1.5v204h1.5v46h1.5v-65h1.5v57h1.5v26h1.5v-10h1.5v-69h1.5v58h1.5v2h1.5v-10h1.5v8h1.5v-96h1.5v-7h1.5v-30h1.5v127h1.5v-5h1.5v-13h1.5v-60h1.5v-109h1.5v-47h1.5v22h1.5v85h1.5v-14h1.5v-36h1.5v61h1.5v-50h1.5v34h1.5v48h1.5v7h1.5v38h1.5v10h1.5v16h1.5v6h1.5v18h1.5v-7h1.5v11h1.5v10h1.5v-12h1.5v-32h1.5v-70h1.5v25h1.5v11h1.5v35h3v-39h1.5v25h1.5v-19h1.5v-52h1.5v25h1.5v-13h1.5v83h1.5v-5h1.5v39h1.5v-5h1.5v9h1.5v-9h1.5v1h1.5v14h1.5v-4h1.5v-5h1.5v13h1.5v-32h1.5v-9h1.5v-5h1.5v-142h1.5v108h1.5v-88h3v13h1.5v-28h1.5v5h1.5v37h1.5v-23h1.5v98h1.5v41h1.5v8h1.5v9h1.5v21h1.5v1h1.5v-40h1.5v-19h1.5v-20h1.5v16h1.5v-59h1.5v-23h3v5h1.5v92h1.5v-12h1.5v35h1.5v-6h1.5v3h1.5v-5h1.5v-30h1.5v43h1.5v-16h1.5v20h1.5v-83h1.5v69h1.5v-2h1.5v-1h1.5v-14h1.5v17h1.5v-15h1.5v-12h1.5v-37h1.5v-13h1.5v37h1.5v38h1.5v10h1.5v-1h1.5v6h1.5v-58h1.5v39h1.5v8h1.5v9h1.5v-4h1.5v-20h1.5v20h1.5v-4h1.5v10h1.5v7h1.5v15h1.5v-8h1.5v1h1.5v-4h1.5v6h1.5v10h1.5v-434h1.5v416h1.5v-4h1.5v-4h1.5v5h1.5v2h1.5v-11h1.5v-23h1.5v8h1.5v-31h1.5v1h1.5v27h1.5v-3h1.5v11h1.5v10h1.5v-47h1.5v-6h1.5v46h1.5v1h1.5v-13h1.5v-37h1.5v68h1.5v-30h1.5v25h1.5v5h1.5v7h1.5v-26h1.5v-40h1.5v57h1.5v-12h1.5v-6h1.5v-50h1.5v11h1.5v-17h1.5v22h1.5v4h1.5v-42h1.5v-12h1.5v14h1.5v13h1.5v7h1.5v15h1.5v-64h1.5v107h1.5v-9h1.5v-7h1.5v-28h1.5v-41h1.5v-1h1.5v58h1.5v-52h1.5v76h1.5v15h1.5v-5h1.5v-5h1.5v-17h1.5v-1h3v-17h1.5v13h1.5v-37h1.5v8h1.5v15h1.5v-1h1.5v4h1.5v8h1.5v-2h1.5v15h1.5v31h1.5v-55h1.5v2h1.5v-2h1.5v-34h1.5v-57h1.5v9h1.5v-24h1.5v-94h1.5v135h1.5v50h1.5v-93h1.5v46h1.5v2h1.5v19h1.5v-67h1.5v40h1.5v72h1.5v15h1.5v-91h1.5v59h1.5v30h1.5v8h1.5v-10h1.5v-36h1.5v46h1.5v-42h1.5v11h1.5v12h1.5v-36h1.5v8h1.5v-65h1.5v6h1.5v-16h1.5v-2h1.5v42h1.5v-4h1.5v-27h1.5v-24h1.5v-21h1.5v101h1.5v7h1.5v15h1.5v42h1.5v-9h1.5v15h1.5v-7h1.5v-5h1.5v31h1.5v-12h3v16h1.5v-42h1.5v-4h1.5v-22h1.5v-10h1.5v-52h1.5v41h1.5v25h1.5v13h1.5v8h1.5v-34h1.5v13h1.5v21h1.5v-1h1.5v-19h1.5v-16h1.5v16h1.5v10h1.5v-15h1.5v-4h1.5v-19h1.5v2h1.5v-3h1.5v32h1.5v-20h1.5v13h1.5v-31h1.5v11h1.5v-43h1.5v60h1.5v7h1.5v-67h1.5v12h1.5v38h1.5v-33h1.5v51h1.5v31h1.5v-47h1.5v42h1.5v-11h1.5v1h1.5v-21h1.5v-28h1.5v43h1.5v23h1.5v-79h1.5v56h1.5v-37h1.5v-18h1.5v39h1.5v-62h1.5v42h1.5v14h1.5v-4h1.5v-7h1.5v-16h1.5v47h1.5v-2h1.5v8h1.5v-32h1.5v41h1.5v25h1.5v-33h1.5v-18h1.5v-17h1.5v22h1.5v43h1.5v-5h1.5v-48h1.5v51h1.5v8h1.5v-10h1.5v-17h1.5v-27h1.5v-91h1.5v32h1.5v-93h1.5v10h1.5v4h1.5v11h1.5v52h1.5v-74h1.5v18h1.5v13h1.5v68h1.5v13h1.5v-4h1.5v-14h1.5v-23h1.5v-109h1.5v-46h1.5v-56h1.5v-52h1.5v35h1.5v17h1.5v77h1.5v8h1.5v94h1.5v41h1.5v43h1.5v-82h1.5v69h1.5v-25h1.5v-37h1.5v-4h1.5v18h1.5v40h3v-50h1.5v21h1.5v3h1.5v-17h1.5v-41h1.5v-57h1.5v48h1.5v-3h1.5v-92h1.5v8h1.5v10h1.5v-1h1.5v-18h1.5v-45h1.5v-54h1.5v-9h1.5v35h1.5v58h1.5v-47h1.5v-10h1.5V1022z"/><path fill="#8db554" d="M151 1022v-65h1.5v2h3v13h1.5v-11h1.5v-2h1.5v-7h1.5v-9h3v-14h1.5v16h1.5v-5h1.5v-3h1.5v9h1.5v-15h1.5v-5h1.5v-15h1.5v21h1.5v-5h1.5v2h1.5v-14h1.5v-1h1.5v15h1.5v-4h1.5v13h1.5v-15h1.5v22h1.5v-21h3v1h1.5v10h3v-16h1.5v-17h1.5v30h1.5v6h1.5v-3h1.5v5h1.5v4h1.5v-1h1.5v14h1.5v4h3v-18h1.5v-1h1.5v20h1.5v-8h1.5v8h1.5v-8h1.5v14h1.5v3h1.5v11h1.5v-12h1.5v7h1.5v6h1.5v-3h1.5v3h1.5v-10h3v4h1.5v-7h1.5v-3h1.5v12h1.5v-21h1.5v4h1.5v-3h1.5v-17h1.5v-15h1.5v2h1.5v-33h1.5v-14h1.5v29h1.5v-12h1.5v14h1.5v-15h1.5v-56h1.5v45h4.5v-28h1.5v42h1.5v-59h1.5v22h1.5v-3h1.5v28h1.5v-17h1.5v-21h1.5v-9h1.5v10h1.5v-10h1.5v24h1.5v-12h1.5v-3h3v-3h1.5v17h3v-21h1.5v-2h1.5v31h1.5v-19h1.5v-49h1.5v24h1.5v-17h1.5v30h1.5v-46h1.5v-52h1.5v24h1.5v-24h1.5v24h1.5v-31h1.5v-25h1.5v22h1.5v-1h1.5v-49h1.5v35h1.5v-36h1.5v42h1.5v-35h1.5v10h1.5v24h1.5v29h1.5v-28h1.5v72h1.5v-53h1.5v2h1.5v89h1.5v-79h1.5v52h1.5v-47h1.5v3h1.5v2h1.5v11h1.5v27h1.5v-32h1.5v1h1.5v43h1.5v1h1.5v-8h1.5v9h1.5v-35h1.5v18h1.5v15h1.5v5h3v-20h1.5v-2h1.5v5h1.5v-15h1.5v-3h1.5v13h1.5v13h1.5v-9h3v-16h1.5v-6h1.5v1h1.5v-31h1.5v9h1.5v15h1.5v-1h1.5v-31h1.5v-12h1.5v33h1.5v-8h1.5v-21h1.5v38h1.5v-31h1.5v34h1.5v13h1.5v58h1.5v13h1.5v-54h1.5v57h1.5v-2h1.5v-43h1.5v42h1.5v40h1.5v-2h1.5v-12h1.5v-27h1.5v42h1.5v-15h1.5v-38h1.5v-22h1.5v-33h1.5v2h1.5v-98h1.5v122h1.5v-24h1.5v38h1.5v-62h3v22h1.5v-97h1.5v100h1.5v12h1.5v27h1.5v52h1.5v-82h1.5v89h1.5v-54h1.5v41h1.5v-37h1.5v2h1.5v14h1.5v48h1.5v29h1.5v-2h1.5v13h1.5v-25h1.5v-1h1.5v-35h1.5v46h1.5v-17h1.5v8h1.5v3h1.5v12h1.5v-13h1.5v-39h1.5v-76h1.5v-2h1.5v-13h1.5v-41h1.5v-70h1.5v-18h1.5v22h1.5v-73h1.5v-13h1.5v51h1.5v-35h1.5v20h1.5v-59h3v-1h1.5v42h1.5v9h1.5v58h1.5v-38h1.5v5h1.5v19h1.5v-41h1.5v41h1.5v39h1.5v31h1.5v-22h1.5v9h1.5v50h1.5v14h1.5v35h1.5v31h1.5v-30h1.5v-9h1.5v41h1.5v14h1.5v10h1.5v-19h1.5v24h1.5v-3h1.5v22h1.5v-142h1.5v148h3v7h1.5v24h1.5v-60h1.5v44h1.5v-27h1.5v14h1.5v-2h1.5v-11h1.5v10h1.5v-78h1.5v48h1.5v22h1.5v-1h1.5v-23h1.5v43h1.5v-15h1.5v18h1.5v-4h1.5v-10h1.5v10h1.5v3h1.5v24h1.5v-4h1.5v-5h1.5v-26h1.5v-9h1.5v-4h1.5v22h1.5v-70h1.5v3h1.5v-29h1.5v31h1.5v-18h1.5v5h1.5v-29h1.5v11h1.5v-15h1.5v6h1.5v49h1.5v-11h1.5v18h1.5v-12h1.5v-30h1.5v51h1.5v15h1.5v13h1.5v-58h1.5v63h1.5v-25h1.5v37h1.5v7h1.5v-9h1.5v-4h1.5v20h1.5v-13h1.5v25h1.5v-41h1.5v-38h1.5v46h1.5v-26h1.5v39h1.5v-13h1.5v-154h1.5v156h1.5v15h1.5v-6h1.5v-14h1.5v17h1.5v12h1.5v14h1.5v-33h1.5v1h1.5v13h1.5v-4h1.5v22h1.5v-12h1.5v-21h1.5v4h1.5v-8h1.5v-5h1.5v26h1.5v1h1.5v-6h1.5v-10h1.5v14h1.5v-16h1.5v3h1.5v-41h1.5v43h1.5v-5h1.5v7h1.5v-10h3v-32h1.5v27h1.5v4h1.5v4h1.5v-5h1.5v3h1.5v-300h1.5v307h1.5v5h1.5v-6h1.5v8h1.5v-27h1.5v16h1.5v19h1.5v5h1.5v-8h1.5v6h1.5v-4h1.5v-66h1.5v67h1.5v-45h1.5v41h1.5v1h3v-3h1.5v-83h1.5v70h1.5v10h1.5v-75h1.5v72h1.5v-6h1.5v2h1.5v-9h1.5v2h1.5v-37h1.5v40h1.5v4h1.5v-3h1.5v-5h1.5v-22h1.5v36h1.5v-10h1.5v-30h1.5v31h1.5v4h1.5v-15h1.5v-76h1.5v90h1.5v4h1.5v4h1.5v2h1.5v-193h1.5v180h1.5v-12h1.5v11h1.5v7h1.5v-40h1.5v39h1.5v-12h1.5v8h1.5v8h1.5v-21h1.5v-81h1.5v103h1.5v-5h1.5v4h1.5v4h1.5v-8h1.5v8h1.5v7h1.5v-71h1.5v54h1.5v21h1.5v-25h1.5v30h1.5v-12h1.5v15h1.5v-24h1.5v29h1.5v-9h1.5v10h1.5v-2h1.5v7h1.5v1h1.5v-3h1.5v-11h1.5v-15h1.5v-33h1.5v21h1.5v1h1.5v-6h1.5v-16h1.5v25h1.5v-18h1.5v13h1.5v-22h1.5v-13h1.5v8h1.5v-8h1.5v-125h1.5v95h1.5v-84h1.5v104h1.5v17h1.5v14h1.5v-11h1.5v26h1.5v8h1.5v3h1.5v-8h1.5v1h1.5v4h1.5v12h1.5v-20h1.5v20h1.5v1h1.5v-28h1.5v20h1.5v-4h1.5v-47h1.5v50h1.5v2h1.5v-84h1.5v65h1.5v1h1.5v7h1.5v-1h1.5v-21h1.5v11h1.5v11h1.5v1h1.5v-7h1.5v5h1.5v-11h1.5v-29h1.5v22h1.5v-93h1.5v109h1.5v-43h1.5v47h1.5v-15h1.5v19h1.5v-11h1.5v3h1.5v3h1.5v-2h1.5v7h1.5v-17h1.5v-2h1.5v10h1.5v-3h1.5v-17h1.5v22h1.5v-7h1.5v-5h1.5v4h1.5v5h1.5v-22h1.5v-17h1.5v-2h1.5v-9h1.5v1h1.5v-36h1.5v39h1.5v12h1.5v10h1.5v2h1.5v13h1.5v-3h1.5v6h1.5v-3h1.5v-4h1.5v-2h1.5v-3h1.5v-28h1.5v16h1.5v15h1.5v-7h1.5v-1h1.5v-19h1.5v42h1.5v-25h1.5v-1h1.5v12h1.5v-11h1.5v7h1.5v4h1.5v16h1.5v12h1.5v1h3v-3h1.5v6h1.5v-3h1.5v1h1.5v3h1.5v4h1.5v-1h1.5v-2h3v-2h1.5v4h1.5v-1h1.5v7h1.5v-2h1.5v1h1.5v1h1.5v4h1.5v1h1.5v5h1.5v-5h1.5v1h1.5v-10h1.5v19h1.5v5h1.5v4h1.5v-7h1.5v2h1.5v-5h1.5v2h1.5v-1h1.5v-4h1.5v-6h1.5v3h4.5v1h1.5v4h1.5v1h1.5v4h3v-5h1.5v3h1.5v-10h1.5v8h1.5v3h1.5v-2h1.5v1h3v-41h1.5v2h1.5v-44h1.5v83h1.5v3h1.5v3h1.5v-2h1.5v-3h1.5v-10h1.5v11h1.5v-23h1.5v21h1.5v-1h1.5v2h1.5v10h1.5v-15h1.5v-4h1.5v-6h1.5v-11h1.5v-10h1.5v-5h1.5v-12h1.5v18h1.5v9h1.5v-5h1.5v17h1.5v1h1.5v4h1.5v-4h1.5v3h1.5v-8h1.5v-23h1.5v26h1.5v3h3v-3h1.5v-14h1.5v20h1.5v-3h1.5v-1h1.5v-2h1.5v-22h1.5v20h1.5v1h1.5v7h1.5v-18h1.5v-12h1.5v24h4.5v2h1.5v7h1.5v-6h1.5v13h1.5v4h1.5v-12h1.5v-22h1.5v20h1.5v-19h1.5v17h1.5v-6h1.5v6h1.5v1h1.5v2h1.5v-2h1.5v-14h1.5v15h1.5v-1h1.5v-1h1.5v-1h1.5v1h1.5v-3h1.5v-1h1.5v-2h1.5v6h1.5v5h1.5v-3h3v-1h3v-1h1.5v-3h1.5v3h1.5v-23h1.5v22h1.5v-2h1.5v-1h1.5v3h1.5v-3h1.5v-8h1.5v9h1.5v-3h1.5v1h1.5v2h1.5v-4h1.5v3h1.5v-9h1.5v12h1.5v-13h1.5v2h1.5v-3h1.5v3h1.5v5h1.5v-6h1.5v12h1.5v-10h1.5v1h1.5v-4h1.5v2h1.5v-44h1.5v44h1.5v-4h1.5v4h1.5v6h1.5v-4h1.5v4h1.5v-9h4.5v8h1.5v-1h1.5v-2h1.5v-8h1.5v9h1.5v-2h1.5v9h1.5v-10h1.5v2h1.5v-10h1.5v6h1.5v5h1.5v1h1.5v4h1.5v13h1.5v-11h1.5v-6h1.5v-18h1.5v1h1.5v-19h1.5v16h1.5v4h1.5v-1h3v5h1.5v-7h1.5v6h1.5v-3h1.5v12h1.5v-38h1.5v34h1.5v-16h1.5v-36h1.5v42h1.5v-1h1.5v1h1.5v-3h1.5v8h1.5v-3h1.5v4h1.5v2h1.5v4h1.5v-16h1.5v14h3v5h1.5v2h1.5v-4h1.5v-2h1.5v-3h1.5v-12h1.5v-9h1.5v8h1.5v8h1.5v-12h1.5v9h1.5v-26h1.5v30h1.5v-13h1.5v17h1.5v5h1.5v-1h1.5v4h1.5v1h1.5v-4h1.5v6h1.5v-53h1.5v55h1.5v-1h3v6h1.5v-4h1.5v5h1.5v-3h1.5v7h1.5v-11h1.5v-13h1.5v17h4.5v3h3v-1h1.5v-18h1.5v23h1.5v2h1.5v-6h1.5v2h1.5v-2h1.5v2h1.5v-5h1.5v4h3v-1h1.5v-2h1.5v8h1.5v-4h1.5v2h1.5v2h1.5v-1h1.5v2h1.5v1h3v4h4.5v-1h1.5v6h1.5v-2h1.5v-4h1.5v-1h1.5v5h1.5v-3h1.5v-2h1.5v-2h1.5v5h3v-7h1.5v-7h1.5v10h1.5v-23h1.5v-15h1.5v-3h1.5v5h1.5v-5h1.5v31h1.5v12h1.5v-1h1.5v-18h1.5v17h1.5v10h1.5v-4h1.5v3h1.5v-2h1.5v-1h1.5v1h1.5v4h1.5v-4h3v3h1.5v-5h3v-1h1.5v4h3v2h3v-2h3v1h3v-1h1.5v-3h1.5v8h1.5v-5h1.5v-3h1.5v2h1.5v1h1.5v-4h1.5v-1h1.5v-1h1.5v-2h1.5v-2h1.5v-3h3v7h1.5v-9h1.5v2h1.5v-5h1.5v-1h1.5v-1h3v2h1.5v-6h3v-1h1.5v4h1.5v-6h1.5v-2h1.5v-4h1.5v4h1.5v3h1.5v-1h1.5v-1h1.5v-7h1.5v15h1.5v-17h1.5v-3h1.5v3h1.5v4h1.5v8h1.5v-21h1.5v8h1.5v9h1.5v8h1.5v-4h1.5v-7h1.5v11h1.5v5h1.5v3h1.5v2h1.5v2h1.5v1h1.5v6h3v2h1.5v-4h1.5v-1h1.5v1h1.5v1h1.5v-1h1.5v1h1.5v3h1.5v-4h1.5v5h1.5v-1h4.5v-1h1.5v-8h1.5v6h1.5v-2h1.5v-3h1.5v-8h1.5v3h1.5v1h1.5v9h1.5v-14h1.5v-128h1.5v107h1.5v-57h1.5v74h1.5v2h1.5v-148h1.5v62h1.5v67h1.5v-87h1.5v93h1.5v-1h1.5v-10h1.5v18h1.5v17h1.5v6h1.5v6h1.5v-6h1.5v-1h1.5v-1h1.5v13h1.5v-5h1.5v-1h1.5v-2h1.5v-2h1.5v-6h1.5v2h1.5v-4h1.5v-3h1.5v2h1.5v-14h1.5v15h1.5v-5h1.5v-2h1.5v-28h1.5v25h1.5v-19h1.5v5h1.5v22h1.5v-11h1.5v-2h1.5v-3h1.5v-2h3v7h1.5v-4h1.5v14h3v2h1.5v5h1.5v1h1.5v3h1.5v1h1.5v1h1.5v-3h1.5v-3h1.5v4h1.5v-3h1.5v2h1.5v-2h1.5v-2h1.5v1h1.5v-3h1.5v5h1.5v-3h1.5v2h1.5v-1h1.5v2h1.5v-1h1.5v4h3v-2h1.5v3h1.5v-4h1.5v4h1.5v-5h1.5v4h1.5v5h1.5v-3h3v-14h1.5v19h1.5v-10h1.5v-22h1.5v25h1.5v-5h1.5v4h3v3h3v-1h1.5v-10h1.5v-25h1.5v-7h1.5v7h1.5v11h1.5v-11h1.5v-22h1.5v15h1.5v3h1.5v-3h1.5v-1h1.5v8h1.5v-2h1.5v-5h1.5v-36h1.5v42h3v-34h1.5v20h1.5v-3h1.5v3h1.5v2h1.5v-2h1.5v3h1.5v-4h1.5v6h1.5v-4h1.5v-3h1.5v-7h1.5v3h1.5v1h1.5v-4h1.5v1h1.5v4h1.5v-5h1.5v3h1.5v7h1.5v-17h1.5v7h1.5v6h1.5v-12h1.5v2h1.5v1h1.5v-13h1.5v-2h3v-3h1.5v7h3v-10h1.5v2h1.5v-16h1.5v10h1.5v9h1.5v-3h1.5v11h1.5v-5h1.5v9h1.5v-9h1.5v2h1.5v-2h1.5v4h1.5v-8h1.5v6h1.5v3h1.5v-3h1.5v-32h1.5v35h1.5v-1h1.5v-5h1.5v13h1.5v5h1.5v7h1.5v-2h1.5v-6h1.5v10h1.5v-5h1.5v5h1.5v5h1.5v37h1.5v-30h1.5v-3h3v-1h1.5v-5h1.5v-2h3v-8h1.5v1h3v-11h1.5v10h1.5v-12h1.5v5h1.5v19h1.5v-17h1.5v9h1.5v4h1.5v5h1.5v-19h1.5v26h1.5v-39h1.5v21h1.5v30h1.5v-1h1.5v-14h1.5v-20h1.5v40h1.5v-13h1.5v-12h1.5v22h1.5v3h1.5v-4h1.5v-38h1.5v-34h1.5v-55h1.5v8h1.5v5h1.5v-17h1.5v22h1.5v15h1.5v25h1.5v-33h1.5v-39h1.5v-29h1.5v-13h1.5v53h1.5v15h1.5v13h1.5v9h1.5v-53h1.5v77h1.5v-3h1.5v9h1.5v-24h1.5v-20h1.5v49h1.5v-6h1.5v-12h1.5v-35h1.5v-11h1.5v3h1.5v15h1.5v-38h1.5v-56h1.5v110h1.5v-33h1.5v-5h1.5v1h1.5v39h1.5v-28h1.5v-50h1.5v54h1.5v25h1.5v-65h1.5v27h1.5v-17h1.5v17h1.5v-11h1.5v1h1.5v40h1.5v-27h1.5v11h1.5v1h1.5v-24h1.5v-3h1.5v57h1.5v-41h1.5v42h1.5v-63h1.5v14h1.5v38h1.5v-52h1.5v44h1.5v-26h1.5v-25h1.5v20h1.5v2h1.5v-13h1.5v-52h1.5v-53h1.5v-22h1.5v34h1.5v18h1.5v27h1.5v18h1.5v-74h1.5v64h1.5v-15h1.5v-82h1.5v75h1.5v75h1.5v-113h1.5v-1h1.5v35h1.5v11h1.5v-70h1.5v55h1.5v14h1.5v-9h1.5v8h1.5v-31h1.5v9h1.5v-9h1.5v59h1.5v22h1.5v-42h1.5v-34h1.5v-84h1.5v66h1.5v-2h1.5v-4h1.5v5h1.5v40h1.5v-33h1.5v-30h1.5v-15h1.5v63h1.5v-117h1.5v76h1.5v-77h1.5v11h1.5v36h1.5v8h1.5v122h1.5v-15h1.5v34h1.5v41h1.5v-17h1.5v10h1.5v12h1.5v-5h1.5v-1h1.5v14h1.5v22h1.5v2h1.5v-70h1.5v67h1.5v5h1.5v-27h1.5v46h1.5v-25h1.5v9h1.5v8h1.5v-110h1.5v105h1.5v-1h1.5v-60h1.5v65h1.5v-3h1.5v-17h1.5v28h1.5v23h1.5v-34h1.5v19h1.5v-14h1.5v-30h1.5v59h1.5v-21h1.5v1h1.5v21h1.5v25h1.5v-16h1.5v1h1.5v-84h1.5v-87h1.5v10h1.5v-205h1.5v48h1.5v31h1.5v68h1.5v112h1.5v-24h1.5v-8h1.5v24h1.5v76h1.5v-20h1.5v-1h1.5v-99h1.5v123h1.5v-110h1.5v112h1.5v26h1.5v-39h1.5v43h1.5v18h1.5v-4h1.5v-49h1.5v34h1.5v1h1.5v-1h1.5v6h1.5v-24h1.5v-5h1.5v-7h1.5v55h1.5v-15h1.5v-13h1.5v-48h1.5v-131h1.5v-62h1.5v26h1.5v92h1.5v-17h1.5v-48h1.5v84h1.5v-43h1.5v34h1.5v59h1.5v-6h1.5v22h1.5v15h1.5v8h1.5v11h1.5v11h1.5v-9h1.5v11h1.5v5h1.5v-7h1.5v-2h1.5v-52h1.5v28h1.5v-13h1.5v19h1.5v-14h1.5v-22h1.5v16h1.5v2h1.5v-33h1.5v33h1.5v-7h1.5v38h1.5v4h1.5v9h3v9h1.5v-14h1.5v4h1.5v8h1.5v1h1.5v5h1.5v9h1.5v-28h1.5v-13h1.5v-7h1.5v-80h1.5v60h1.5v-63h1.5v-1h1.5v7h1.5v-12h1.5v2h1.5v48h1.5v-34h1.5v58h1.5v29h1.5v8h1.5v-1h1.5v17h1.5v3h1.5v-19h1.5v-16h1.5v-21h1.5v17h1.5v-44h1.5v-11h1.5v2h1.5v23h1.5v49h1.5v-9h1.5v23h1.5v-6h1.5v-2h1.5v-10h1.5v-17h1.5v30h1.5v-7h1.5v11h1.5v-59h1.5v51h1.5v3h1.5v-6h1.5v-9h1.5v9h1.5v-4h1.5v8h1.5v-7h1.5v-12h1.5v11h1.5v18h1.5v9h1.5v-3h3v-38h1.5v26h1.5v15h1.5v4h1.5v-7h1.5v-8h3v-1h1.5v6h1.5v3h1.5v11h1.5v-6h1.5v3h1.5v-3h1.5v1h1.5v5h1.5v-297h1.5v289h1.5v-1h1.5v-4h1.5v-1h1.5v-4h1.5v-5h1.5v-8h1.5v3h1.5v-15h1.5v-2h1.5v13h1.5v9h1.5v2h1.5v2h1.5v-26h1.5v3h1.5v23h1.5v-10h1.5v-9h1.5v-39h1.5v54h1.5v-24h1.5v23h1.5v4h1.5v7h1.5v-21h1.5v-34h1.5v49h1.5v-2h1.5v-5h1.5v-29h1.5v5h1.5v-11h1.5v9h1.5v16h1.5v-23h1.5v7h1.5v-17h1.5v20h1.5v-14h1.5v16h1.5v-71h1.5v93h1.5v-10h1.5v-1h1.5v-15h1.5v-14h1.5v15h1.5v17h1.5v-28h1.5v42h1.5v6h1.5v-3h3v-16h1.5v-10h1.5v3h1.5v-5h1.5v5h1.5v-21h1.5v1h1.5v11h1.5v4h1.5v2h1.5v-3h1.5v-1h1.5v11h1.5v26h1.5v-49h1.5v8h1.5v8h1.5v-17h1.5v-48h1.5v9h1.5v-19h1.5v-106h1.5v137h1.5v34h1.5v-38h1.5v14h1.5v7h1.5v11h1.5v-65h1.5v28h1.5v52h1.5v8h1.5v-93h1.5v77h1.5v13h1.5v5h1.5v-2h1.5v-30h1.5v35h1.5v-26h1.5v5h1.5v2h1.5v-20h1.5v3h1.5v-33h1.5v-2h1.5v-8h1.5v-3h1.5v36h1.5v-1h1.5v-15h1.5v-34h1.5v-10h1.5v66h1.5v-1h1.5v12h1.5v32h1.5v-7h1.5v8h1.5v-7h1.5v5h1.5v22h1.5v-11h1.5v-3h1.5v9h1.5v-31h1.5v7h1.5v3h1.5v-4h1.5v-30h1.5v9h1.5v7h1.5v-2h1.5v4h1.5v-26h1.5v13h1.5v28h1.5v-3h1.5v-9h1.5v-13h1.5v10h1.5v-5h1.5v-6h1.5v-3h1.5v-21h1.5v5h1.5v1h1.5v23h1.5v-9h1.5v-4h1.5v-18h1.5v8h1.5v-36h1.5v56h1.5v4h1.5v-35h1.5v-12h1.5v36h1.5v-9h1.5v17h1.5v21h1.5v-33h1.5v30h1.5v-8h1.5v2h1.5v-25h1.5v-18h1.5v33h1.5v22h1.5v-58h1.5v39h1.5v-20h1.5v-12h1.5v34h1.5v-58h1.5v39h1.5v7h1.5v-6h1.5v3h1.5v-20h1.5v40h1.5v-9h1.5v3h1.5v-26h1.5v33h1.5v21h1.5v-31h1.5v-4h1.5v-8h1.5v16h1.5v30h1.5v-4h1.5v-38h1.5v39h1.5v4h1.5v-5h1.5v-7h1.5v-18h1.5v-71h1.5v11h1.5v-66h1.5v7h1.5v32h1.5v-6h1.5v19h1.5v-36h1.5v10h1.5v12h1.5v55h1.5v-5h3v-7h1.5v-31h1.5v-110h1.5v-33h1.5v-4h1.5v-8h1.5v55h1.5v55h1.5v36h1.5v-22h1.5v44h1.5v4h1.5v28h1.5v-37h1.5v37h1.5v-24h1.5v-9h1.5v-9h1.5v3h1.5v19h1.5v23h1.5v-35h1.5v18h1.5v7h1.5v-19h1.5v-25h1.5v-66h1.5v29h1.5v-8h1.5v-24h1.5v-21h1.5v16h1.5v-31h1.5v-8h1.5v-23h1.5v-54h1.5v-14h1.5v25h1.5v38h1.5v-38h1.5v6h1.5V1022z"/><path fill="#4285dd" d="M151 1022v-45h1.5v2h1.5v-5h1.5v16h1.5v-4h1.5v-2h1.5v-9h3v-1h1.5v-24h1.5v14h1.5v-4h1.5v-1h1.5v12h1.5v-8h1.5v-9h1.5v-13h1.5v21h1.5v-6h1.5v-2h1.5v-4h1.5v-6h1.5v11h1.5v-4h1.5v5h1.5v-16h1.5v21h1.5v-14h1.5v4h1.5v2h1.5v7h1.5v-5h1.5v-16h1.5v-9h1.5v21h1.5v9h1.5v-9h1.5v15h1.5v-3h3v12h1.5v1h1.5v4h1.5v-18h1.5v8h1.5v11h1.5v-9h1.5v5h1.5v-5h1.5v12h1.5v3h1.5v5h1.5v-9h1.5v9h1.5v1h1.5v-1h1.5v2h1.5v-3h1.5v-3h1.5v2h1.5v-9h1.5v1h1.5v7h1.5v-11h3v-8h1.5v-15h1.5v-10h1.5v7h1.5v-33h1.5v2h1.5v18h1.5v-4h1.5v-4h1.5v-8h1.5v-35h1.5v44h1.5v-3h1.5v-11h1.5v-21h1.5v33h1.5v-47h1.5v31h1.5v-4h1.5v6h1.5v-9h1.5v-13h1.5v-13h1.5v13h1.5v-8h1.5v17h1.5v-2h1.5v5h1.5v-13h1.5v1h1.5v7h1.5v2h1.5v-20h1.5v11h1.5v18h1.5v-20h1.5v-38h1.5v21h1.5v-12h1.5v26h1.5v-36h1.5v-31h1.5v12h1.5v-16h1.5v19h1.5v-16h1.5v-6h1.5v14h1.5v-9h1.5v-25h1.5v25h1.5v-32h1.5v35h1.5v-34h1.5v8h1.5v12h1.5v14h1.5v-12h1.5v37h1.5v-34h1.5v8h1.5v63h1.5v-67h1.5v47h1.5v-42h1.5v2h1.5v15h1.5v-7h1.5v12h1.5v-3h1.5v-6h1.5v35h3v-1h1.5v6h1.5v-20h1.5v7h1.5v4h1.5v13h1.5v-6h1.5v-8h1.5v-2h1.5v4h1.5v-7h1.5v-15h1.5v26h1.5v2h1.5v-6h1.5v-15h3v-5h1.5v-13h1.5v-11h1.5v1h1.5v10h1.5v-3h1.5v-20h1.5v-6h1.5v34h1.5v-2h1.5v-12h1.5v22h1.5v-28h1.5v15h1.5v26h1.5v43h1.5v6h1.5v-47h1.5v43h1.5v-5h1.5v-34h1.5v34h1.5v22h1.5v-1h1.5v-22h1.5v-21h1.5v38h1.5v-9h1.5v-16h1.5v-34h1.5v-15h3v-69h1.5v91h1.5v-23h1.5v16h1.5v-43h3v35h1.5v-74h1.5v74h1.5v21h1.5v17h1.5v49h1.5v-77h1.5v71h1.5v-43h1.5v31h1.5v-24h1.5v-4h1.5v11h1.5v24h1.5v25h1.5v2h1.5v11h1.5v-23h1.5v2h1.5v-21h1.5v31h1.5v-10h1.5v10h1.5v-2h1.5v7h1.5v-6h1.5v-28h1.5v-70h1.5v-5h1.5v4h1.5v-34h1.5v-48h1.5v-2h1.5v32h1.5v-31h1.5v-24h1.5v26h1.5v-22h1.5v-5h1.5v-46h1.5v-5h3v39h1.5v-3h1.5v58h1.5v-26h1.5v-3h1.5v15h1.5v-20h1.5v9h1.5v33h1.5v25h1.5v-11h1.5v12h1.5v33h1.5v7h1.5v21h1.5v20h1.5v-20h3v29h1.5v7h1.5v14h1.5v-16h1.5v15h1.5v-8h1.5v18h1.5v-97h1.5v99h1.5v-1h1.5v7h1.5v16h1.5v-47h1.5v43h1.5v-8h1.5v2h1.5v-6h1.5v-13h1.5v4h1.5v-54h1.5v40h1.5v8h1.5v10h1.5v-18h1.5v27h1.5v-9h1.5v13h1.5v-4h1.5v-8h1.5v13h1.5v-7h1.5v19h1.5v-2h1.5v-1h1.5v-23h1.5v-1h1.5v-6h1.5v15h1.5v-46h1.5v4h1.5v-30h1.5v25h1.5v-18h1.5v14h1.5v-26h1.5v5h1.5v-5h1.5v27h1.5v18h1.5v3h1.5v6h1.5v-18h1.5v-13h1.5v29h1.5v17h1.5v3h1.5v-32h1.5v41h1.5v-16h1.5v14h1.5v6h1.5v-1h1.5v-4h1.5v18h1.5v-12h1.5v17h1.5v-15h1.5v-31h1.5v21h1.5v-20h1.5v20h1.5v-6h1.5v-117h1.5v108h1.5v20h1.5v-6h1.5v-7h1.5v10h1.5v4h1.5v16h1.5v-29h1.5v3h1.5v9h1.5v-7h1.5v23h1.5v-5h1.5v-8h1.5v3h1.5v-15h1.5v2h1.5v14h1.5v1h1.5v-6h1.5v-9h1.5v13h1.5v-13h1.5v7h1.5v-30h1.5v29h1.5v1h1.5v4h1.5v-9h1.5v-1h1.5v-22h1.5v17h1.5v5h1.5v-1h1.5v-1h1.5v1h1.5v-220h1.5v223h1.5v5h1.5v-5h1.5v8h1.5v-21h1.5v15h1.5v12h1.5v2h1.5v-4h1.5v3h1.5v-1h1.5v-45h1.5v48h1.5v-33h1.5v29h1.5v-1h1.5v4h1.5v-3h1.5v-59h1.5v51h1.5v5h1.5v-54h1.5v49h1.5v-4h1.5v6h1.5v-9h1.5v-2h1.5v-26h1.5v32h1.5v-2h1.5v-2h1.5v-5h1.5v-17h1.5v32h1.5v-6h1.5v-24h1.5v29h1.5v-4h1.5v-10h1.5v-55h1.5v63h1.5v2h1.5v3h3v-94h1.5v81h1.5v-5h1.5v11h1.5v1h1.5v-25h1.5v24h1.5v-8h1.5v4h1.5v8h1.5v-14h1.5v-53h1.5v70h3v1h1.5v6h1.5v-9h1.5v7h1.5v5h1.5v-51h1.5v40h1.5v12h1.5v-22h1.5v25h1.5v-8h1.5v9h1.5v-19h1.5v24h1.5v-7h1.5v8h1.5v-1h1.5v5h1.5v-2h1.5v-1h1.5v-8h1.5v-8h1.5v-15h1.5v11h3v-1h1.5v-10h1.5v17h1.5v-22h1.5v14h1.5v-17h1.5v-9h1.5v3h1.5v-5h1.5v-87h1.5v62h1.5v-48h1.5v67h1.5v8h1.5v18h1.5v-10h1.5v19h1.5v4h1.5v4h1.5v-4h1.5v1h1.5v6h1.5v5h1.5v-13h1.5v8h1.5v-2h1.5v-17h1.5v12h1.5v-2h1.5v-31h1.5v35h1.5v1h1.5v-56h1.5v45h3v6h1.5v-3h1.5v-14h1.5v9h1.5v9h1.5v-3h1.5v-4h1.5v3h1.5v-8h1.5v-20h1.5v12h1.5v-64h1.5v77h1.5v-31h1.5v29h1.5v-12h1.5v17h1.5v-2h1.5v-1h1.5v5h1.5v-5h1.5v8h1.5v-15h1.5v3h1.5v3h1.5v1h1.5v-12h1.5v14h1.5v-4h3v-2h1.5v3h1.5v-16h1.5v-15h1.5v-6h1.5v-7h1.5v1h1.5v-27h1.5v29h1.5v14h1.5v7h3v10h1.5v1h1.5v3h1.5v-3h1.5v-2h1.5v-1h1.5v-4h1.5v-19h1.5v11h1.5v12h1.5v-7h1.5v-1h1.5v-12h1.5v31h1.5v-17h3v10h1.5v-11h1.5v4h3v14h1.5v11h3v1h1.5v-1h1.5v2h1.5v-1h1.5v1h1.5v5h3v1h1.5v-1h3v-3h1.5v5h3v4h1.5v-1h1.5v1h3v3h1.5v-1h1.5v3h1.5v-3h3v-8h1.5v15h1.5v3h1.5v2h1.5v-4h1.5v1h1.5v-4h1.5v2h1.5v-1h1.5v-3h1.5v-2h1.5v1h1.5v1h1.5v-3h1.5v3h1.5v2h1.5v1h1.5v4h3v-3h3v-8h1.5v5h1.5v4h1.5v-2h3v-1h1.5v-24h1.5v4h1.5v-32h1.5v53h1.5v1h1.5v3h1.5v-1h3v-9h1.5v8h1.5v-18h1.5v17h1.5v-1h1.5v4h1.5v6h1.5v-11h1.5v-3h1.5v-5h1.5v-7h1.5v-6h1.5v-4h1.5v-8h1.5v11h1.5v6h1.5v-3h1.5v12h3v4h1.5v-2h1.5v2h1.5v-5h1.5v-17h1.5v20h4.5v-3h1.5v-9h1.5v14h1.5v-3h1.5v-1h1.5v-2h1.5v-14h1.5v13h3v8h1.5v-14h1.5v-7h1.5v17h3v-1h1.5v1h1.5v5h1.5v-5h1.5v11h1.5v4h1.5v-10h1.5v-16h1.5v14h1.5v-14h1.5v13h1.5v-5h1.5v4h3v2h1.5v-2h1.5v-11h1.5v10h3v-2h1.5v-1h1.5v1h3v-2h3v3h1.5v3h1.5v-3h1.5v3h1.5v-2h3v-2h1.5v-2h1.5v1h1.5v-14h1.5v16h1.5v-1h1.5v-1h1.5v4h1.5v-2h1.5v-8h1.5v7h1.5v-2h1.5v2h3v-5h1.5v3h1.5v-7h1.5v12h1.5v-13h1.5v1h1.5v-1h1.5v3h1.5v3h1.5v-5h1.5v9h1.5v-6h1.5v1h1.5v-4h1.5v1h1.5v-28h1.5v30h1.5v-2h1.5v1h1.5v5h1.5v-1h1.5v3h1.5v-6h1.5v-1h1.5v3h1.5v2h1.5v-3h3v-8h1.5v8h3v7h1.5v-8h1.5v2h1.5v-8h1.5v3h1.5v4h1.5v3h1.5v3h1.5v7h1.5v-6h1.5v-7h1.5v-15h1.5v1h1.5v-14h1.5v14h4.5v1h1.5v4h1.5v-5h1.5v2h3v8h1.5v-27h1.5v23h1.5v-13h1.5v-20h1.5v29h1.5v-1h3v-2h1.5v6h1.5v-4h1.5v5h1.5v1h1.5v3h1.5v-11h1.5v9h1.5v1h1.5v6h1.5v2h1.5v-2h1.5v-3h1.5v1h1.5v-7h1.5v-11h1.5v6h1.5v3h1.5v-7h1.5v4h1.5v-16h1.5v18h1.5v-4h1.5v9h1.5v2h1.5v-2h1.5v2h1.5v3h1.5v-3h1.5v5h1.5v-39h1.5v40h1.5v-3h1.5v1h1.5v6h1.5v-2h1.5v2h3v5h1.5v-8h1.5v-10h1.5v14h1.5v-2h1.5v1h1.5v3h3v-3h1.5v-14h1.5v18h1.5v2h1.5v-5h1.5v4h1.5v-3h1.5v1h1.5v-4h1.5v2h1.5v4h1.5v-2h1.5v-4h1.5v7h1.5v-1h1.5v-2h1.5v5h4.5v1h1.5v-2h1.5v3h4.5v-1h1.5v5h1.5v-2h3v-2h1.5v3h1.5v-4h1.5v-1h1.5v1h1.5v2h1.5v1h1.5v-6h1.5v-4h1.5v6h1.5v-17h1.5v-11h1.5v4h1.5v-1h1.5v-2h1.5v20h1.5v12h1.5v-2h1.5v-13h1.5v13h1.5v5h1.5v-2h1.5v3h1.5v-3h4.5v4h1.5v-4h1.5v1h1.5v2h1.5v-5h1.5v3h1.5v-2h1.5v3h1.5v-1h1.5v3h1.5v-1h1.5v-1h1.5v-1h1.5v1h1.5v-1h1.5v1h3v3h1.5v-3h1.5v-2h1.5v1h3v-2h1.5v-1h4.5v-2h1.5v-3h1.5v1h1.5v7h1.5v-7h1.5v1h1.5v-2h1.5v-3h1.5v-2h3v2h1.5v-6h1.5v1h3v4h1.5v-6h1.5v-4h1.5v1h1.5v1h3v-1h1.5v1h1.5v-4h1.5v11h1.5v-11h1.5v-5h3v6h1.5v6h1.5v-16h1.5v4h1.5v6h1.5v7h3v-4h1.5v7h1.5v3h1.5v4h1.5v1h3v2h1.5v4h3v1h3v-1h1.5v-2h1.5v2h1.5v-2h1.5v2h3v-1h1.5v3h3v-2h3v1h1.5v-7h1.5v3h3v-3h1.5v-4h4.5v6h1.5v-9h1.5v-93h1.5v78h1.5v-48h1.5v60h1.5v1h1.5v-105h1.5v39h1.5v51h1.5v-66h1.5v71h1.5v-2h1.5v-6h1.5v14h1.5v11h1.5v7h1.5v5h1.5v-3h3v-1h1.5v8h1.5v-4h1.5v1h1.5v-3h1.5v-1h1.5v-3h1.5v-1h1.5v-1h1.5v-4h1.5v-2h1.5v-9h1.5v11h1.5v-1h1.5v-4h1.5v-13h1.5v13h1.5v-14h1.5v4h1.5v13h1.5v-7h1.5v-2h3v-3h3v3h1.5v1h1.5v8h1.5v2h1.5v2h1.5v3h1.5v1h1.5v1h3v1h1.5v-2h1.5v-1h1.5v4h1.5v-4h1.5v3h1.5v-4h3v1h1.5v-3h1.5v5h1.5v-3h1.5v2h1.5v-1h1.5v2h1.5v-1h1.5v3h3v-2h1.5v2h1.5v-2h1.5v3h1.5v-4h1.5v4h1.5v2h1.5v-3h1.5v1h1.5v-9h1.5v11h1.5v-6h1.5v-15h1.5v18h1.5v-5h1.5v4h3v2h1.5v-1h1.5v-1h1.5v-10h1.5v-17h1.5v-3h1.5v4h1.5v5h1.5v-5h1.5v-18h1.5v9h1.5v4h3v-3h1.5v4h1.5v1h1.5v-4h1.5v-22h1.5v25h1.5v2h1.5v-24h1.5v14h1.5v-3h1.5v3h1.5v3h1.5v-4h1.5v2h1.5v-4h1.5v5h1.5v-4h1.5v1h1.5v-8h1.5v3h1.5v-3h3v2h1.5v-1h1.5v-1h1.5v3h1.5v8h1.5v-14h1.5v6h1.5v3h1.5v-12h1.5v5h3v-8h1.5v3h1.5v-2h1.5v-4h1.5v4h1.5v2h1.5v-9h1.5v2h1.5v-12h1.5v4h1.5v7h1.5v-3h1.5v9h1.5v-3h1.5v6h1.5v-10h1.5v4h1.5v-1h1.5v4h1.5v-2h1.5v7h4.5v-21h1.5v25h1.5v-8h1.5v-3h1.5v16h3v4h1.5v-5h3v11h1.5v-4h1.5v-1h1.5v6h1.5v27h1.5v-17h1.5v-1h3v1h1.5v-5h1.5v-3h1.5v-5h1.5v-4h1.5v2h1.5v-1h1.5v-2h3v-10h1.5v3h1.5v13h1.5v-21h1.5v12h1.5v4h1.5v3h1.5v-7h1.5v14h1.5v-27h1.5v24h1.5v16h1.5v-7h1.5v-12h1.5v-14h1.5v31h1.5v-8h1.5v-10h1.5v19h1.5v-1h1.5v-3h1.5v-20h1.5v-37h1.5v-26h1.5v14h1.5v-5h1.5v-16h1.5v11h1.5v4h1.5v26h1.5v-22h1.5v-39h1.5v-9h1.5v-11h1.5v35h1.5v8h1.5v11h1.5v10h1.5v-31h1.5v51h1.5v-4h1.5v14h1.5v-19h1.5v1h1.5v20h1.5v-1h1.5v-22h1.5v-22h1.5v-8h1.5v3h1.5v17h1.5v-27h1.5v-43h1.5v81h1.5v-28h1.5v3h1.5v-12h1.5v31h1.5v-30h1.5v-29h1.5v42h1.5v15h1.5v-54h1.5v17h1.5v-3h3v19h1.5v-4h1.5v28h1.5v-17h1.5v16h1.5v-2h1.5v7h1.5v-16h1.5v20h1.5v-34h1.5v38h1.5v-46h1.5v20h1.5v19h1.5v-37h1.5v32h1.5v-30h1.5v-5h1.5v12h1.5v-7h1.5v-6h1.5v-35h1.5v-42h1.5v-15h1.5v35h1.5v4h1.5v18h1.5v26h1.5v-65h1.5v60h1.5v-14h1.5v-78h1.5v54h1.5v61h1.5v-77h1.5v4h1.5v18h1.5v8h1.5v-53h1.5v35h1.5v25h1.5v-16h1.5v10h1.5v-23h1.5v-6h3v50h1.5v12h1.5v-4h1.5v-25h1.5v-63h1.5v41h1.5v-4h1.5v-16h1.5v14h1.5v26h1.5v-32h1.5v-19h1.5v-3h1.5v30h1.5v-62h1.5v58h1.5v-57h1.5v9h1.5v18h1.5v1h1.5v71h1.5v-9h1.5v23h1.5v21h1.5v-9h1.5v9h1.5v11h1.5v-9h1.5v-4h1.5v14h1.5v21h1.5v8h1.5v-56h1.5v55h1.5v-2h1.5v-21h1.5v36h1.5v-22h1.5v10h1.5v7h1.5v-80h1.5v76h1.5v-2h1.5v-44h1.5v44h1.5v-4h1.5v3h1.5v20h1.5v16h1.5v-20h1.5v18h1.5v-15h1.5v-22h1.5v36h1.5v-18h1.5v6h1.5v11h1.5v21h1.5v-11h1.5v-4h1.5v-68h1.5v-99h1.5v40h1.5v-142h1.5v16h1.5v63h1.5v24h1.5v90h1.5v-15h1.5v-4h1.5v13h1.5v61h1.5v-10h1.5v-4h1.5v-63h1.5v81h1.5v-75h1.5v68h1.5v15h1.5v-22h1.5v27h1.5v16h1.5v-2h1.5v-34h1.5v28h1.5v-5h1.5v3h1.5v2h1.5v-20h1.5v2h1.5v-1h1.5v36h1.5v-7h1.5v-6h1.5v-28h1.5v-86h1.5v-46h1.5v19h1.5v66h1.5v-27h1.5v-33h1.5v50h1.5v-27h1.5v23h1.5v43h1.5v-3h1.5v18h1.5v7h3v9h1.5v10h1.5v-8h1.5v5h1.5v7h1.5v-11h1.5v3h1.5v-38h1.5v21h1.5v-7h1.5v17h1.5v-12h1.5v-9h1.5v4h1.5v2h1.5v-22h1.5v27h1.5v-5h1.5v28h1.5v-2h1.5v5h1.5v3h1.5v3h1.5v-8h1.5v4h1.5v6h1.5v-5h1.5v6h1.5v7h1.5v-17h1.5v-12h1.5v-1h1.5v-47h1.5v37h1.5v-40h1.5v-5h1.5v14h1.5v-12h1.5v2h1.5v25h1.5v-29h1.5v55h1.5v9h1.5v7h1.5v-3h1.5v11h1.5v5h1.5v-12h1.5v-9h1.5v-14h1.5v11h1.5v-24h1.5v-15h1.5v1h1.5v17h1.5v34h1.5v-5h1.5v14h1.5v-3h1.5v-6h1.5v2h1.5v-21h1.5v20h1.5v-3h1.5v6h1.5v-39h1.5v34h3v-5h1.5v-7h1.5v9h1.5v-5h1.5v4h1.5v-4h1.5v-9h1.5v10h1.5v13h1.5v4h1.5v3h1.5v-2h1.5v-21h1.5v11h1.5v10h1.5v4h1.5v-4h1.5v-5h3v1h1.5v2h1.5v2h1.5v7h1.5v-5h1.5v1h1.5v-2h1.5v4h1.5v4h1.5v-248h1.5v242h6v-3h1.5v-4h1.5v-9h1.5v2h1.5v-9h1.5v-2h1.5v8h1.5v9h1.5v1h1.5v3h1.5v-21h1.5v4h1.5v9h1.5v-5h1.5v-7h1.5v-23h1.5v34h1.5v-13h1.5v15h1.5v3h1.5v2h1.5v-12h1.5v-25h1.5v36h1.5v-6h1.5v-1h1.5v-22h1.5v-3h1.5v-1h1.5v-1h1.5v17h1.5v-17h1.5v6h1.5v-12h1.5v17h1.5v-11h1.5v8h1.5v-46h1.5v63h1.5v-9h1.5v-3h1.5v-6h1.5v-9h1.5v15h1.5v7h1.5v-19h1.5v30h1.5v4h1.5v-5h1.5v2h1.5v-11h1.5v-9h1.5v3h1.5v-3h1.5v3h1.5v-10h1.5v-4h1.5v10h1.5v2h1.5v3h1.5v1h3v5h1.5v14h1.5v-27h1.5v1h1.5v6h1.5v-16h1.5v-33h1.5v6h1.5v-9h1.5v-70h1.5v89h1.5v23h1.5v-23h1.5v11h1.5v4h1.5v6h1.5v-42h1.5v18h1.5v33h1.5v5h1.5v-58h1.5v48h1.5v11h1.5v-1h3v-18h1.5v22h1.5v-14h1.5v-1h3v-17h1.5v4h1.5v-20h1.5v-1h1.5v-9h1.5v-1h1.5v23h1.5v-1h1.5v-3h1.5v-30h1.5v-12h1.5v49h1.5v-4h1.5v9h1.5v30h1.5v-6h1.5v8h1.5v-6h1.5v4h1.5v14h1.5v-7h1.5v-1h1.5v8h1.5v-22h1.5v2h1.5v6h1.5v-4h1.5v-16h1.5v4h1.5v3h1.5v-3h1.5v6h1.5v-21h1.5v12h1.5v13h1.5v-2h1.5v-5h1.5v-13h1.5v9h1.5v-7h1.5v2h1.5v-3h1.5v-14h3v-3h1.5v19h1.5v-4h1.5v-1h1.5v-14h1.5v12h1.5v-34h1.5v44h1.5v2h1.5v-22h1.5v-6h1.5v25h1.5v-7h1.5v7h1.5v17h1.5v-21h1.5v20h1.5v-4h1.5v-2h1.5v-17h1.5v-16h1.5v26h1.5v14h1.5v-38h1.5v22h1.5v-11h1.5v-9h1.5v19h1.5v-34h1.5v26h1.5v11h1.5v-7h1.5v-3h1.5v-11h1.5v27h1.5v-10h1.5v5h1.5v-17h1.5v27h1.5v10h1.5v-22h1.5v-6h1.5v-7h1.5v14h1.5v22h1.5v-4h1.5v-25h1.5v24h1.5v6h1.5v-4h1.5v-5h1.5v-12h1.5v-41h1.5v2h1.5v-45h3v39h1.5v-19h1.5v14h1.5v-26h1.5v8h1.5v19h1.5v35h1.5v-15h1.5v4h1.5v-5h1.5v-14h1.5v-67h1.5v-35h1.5v-21h1.5v29h1.5v33h1.5v34h1.5v17h1.5v-22h1.5v27h1.5v1h1.5v31h1.5v-29h1.5v22h1.5v-10h1.5v-7h1.5v5h1.5v2h1.5v5h1.5v15h1.5v-21h1.5v11h1.5v-1h1.5v-10h1.5v-19h1.5v-57h1.5v19h1.5v5h1.5v-4h1.5v-27h1.5v8h1.5v-31h1.5v2h1.5v-15h1.5v-41h1.5v-14h1.5v-8h1.5v33h1.5v-34h1.5v-1h1.5V1022z"/><path fill="#8a2ea6" d="M151 1022v-32h1.5v3h1.5v-3h1.5v10h3v-4h1.5v-4h4.5v-17h1.5v9h1.5v-3h1.5v-2h1.5v9h1.5v-3h1.5v-11h1.5v-3h1.5v8h1.5v4h1.5v-3h3v-5h1.5v3h1.5v-1h3v-6h1.5v12h1.5v-8h1.5v5h1.5v-5h1.5v5h1.5v-2h1.5v-9h1.5v-1h1.5v11h1.5v3h1.5v-3h1.5v3h3v-5h1.5v11h1.5v5h1.5v2h1.5v-10h1.5v-1h1.5v7h1.5v-1h1.5v-2h1.5v2h1.5v5h1.5v1h1.5v4h1.5v-6h1.5v6h1.5v3h3v-1h1.5v-3h3v2h1.5v-5h1.5v2h1.5v2h1.5v-8h1.5v1h1.5v-4h1.5v-7h1.5v-6h1.5v3h1.5v-21h1.5v6h1.5v7h1.5v6h1.5v-7h1.5v-10h1.5v-16h1.5v27h1.5v-4h1.5v-19h1.5v-3h1.5v27h1.5v-22h1.5v15h1.5v-4h1.5v11h1.5v-14h1.5v-13h1.5v5h1.5v5h1.5v-11h1.5v14h1.5v-22h1.5v15h1.5v-14h1.5v14h1.5v8h1.5v-7h1.5v-19h1.5v10h1.5v6h1.5v-10h1.5v-16h1.5v12h1.5v-10h1.5v6h1.5v-28h1.5v-25h1.5v10h1.5v-9h1.5v14h1.5v-9h1.5v-13h1.5v16h1.5v-11h1.5v-16h1.5v17h1.5v-17h1.5v32h1.5v-28h1.5v17h1.5v5h1.5v7h1.5v-5h1.5v14h1.5v-16h1.5v2h1.5v35h1.5v-32h1.5v32h1.5v-16h1.5v6h1.5v2h1.5v10h1.5v-5h3v-7h1.5v21h1.5v-6h1.5v5h1.5v2h1.5v-2h1.5v-2h1.5v-2h1.5v7h1.5v4h1.5v-8h1.5v-8h1.5v5h1.5v-10h1.5v-13h1.5v15h1.5v3h1.5v-12h1.5v-3h1.5v-5h3v-7h1.5v-2h1.5v2h1.5v9h1.5v-6h1.5v-19h1.5v3h1.5v22h1.5v4h1.5v-4h1.5v15h1.5v-11h1.5v3h1.5v7h1.5v33h1.5v4h1.5v-17h1.5v12h1.5v10h1.5v-22h1.5v10h1.5v14h1.5v-3h1.5v-11h1.5v-7h1.5v10h1.5v2h1.5v-2h1.5v-16h1.5v-21h1.5v15h1.5v-35h1.5v38h1.5v-19h1.5v28h1.5v-26h1.5v-10h1.5v14h1.5v-37h1.5v43h1.5v11h1.5v-6h1.5v38h1.5v-59h1.5v41h1.5v-32h1.5v23h1.5v-13h1.5v2h1.5v6h1.5v13h1.5v21h1.5v2h1.5v6h1.5v-19h1.5v-3h1.5v-12h1.5v19h1.5v-11h1.5v10h1.5v-3h1.5v7h1.5v-5h1.5v-4h1.5v-47h1.5v9h1.5v-2h1.5v-17h1.5v-56h1.5v2h1.5v9h1.5v-19h1.5v-4h1.5v15h1.5v-11h1.5v2h1.5v-42h1.5v-2h3v14h1.5v3h1.5v33h1.5v-16h1.5v-2h1.5v20h1.5v-11h1.5v10h1.5v29h1.5v16h1.5v3h3v16h1.5v10h1.5v12h1.5v15h1.5v-20h1.5v1h1.5v21h1.5v8h1.5v10h1.5v-15h1.5v9h1.5v-8h1.5v13h1.5v-51h1.5v51h1.5v7h1.5v-2h1.5v9h1.5v-29h1.5v29h1.5v-5h1.5v4h1.5v-4h1.5v-3h3v-34h1.5v16h1.5v7h1.5v6h1.5v-6h1.5v11h1.5v-6h1.5v5h1.5v-2h1.5v-11h1.5v20h1.5v-12h1.5v12h1.5v-4h1.5v1h1.5v-14h1.5v6h1.5v-3h1.5v13h1.5v-34h1.5v8h1.5v-28h1.5v19h1.5v-14h1.5v8h1.5v-9h1.5v-5h1.5v5h1.5v21h1.5v9h1.5v-1h1.5v-3h1.5v-4h1.5v-18h1.5v28h1.5v6h1.5v-2h1.5v-14h1.5v23h1.5v-7h1.5v7h1.5v5h1.5v-4h1.5v2h1.5v12h1.5v-6h1.5v10h1.5v-12h1.5v-16h1.5v15h1.5v-24h1.5v20h1.5v-4h1.5v-62h1.5v55h1.5v13h1.5v-1h1.5v-9h1.5v6h1.5v5h1.5v11h1.5v-18h1.5v3h1.5v1h1.5v-4h1.5v18h1.5v-7h1.5v-3h1.5v2h1.5v-4h1.5v-3h1.5v12h1.5v3h1.5v-3h1.5v-11h1.5v10h1.5v-9h1.5v3h1.5v-14h1.5v14h1.5v1h1.5v5h1.5v-4h1.5v-2h1.5v-13h1.5v9h1.5v-2h1.5v1h1.5v-2h3v-139h1.5v143h1.5v2h3v2h1.5v-11h1.5v8h1.5v9h1.5v1h4.5v-2h1.5v-24h1.5v26h1.5v-18h1.5v16h1.5v-1h1.5v2h1.5v-2h1.5v-31h1.5v25h1.5v5h1.5v-30h1.5v27h1.5v-2h1.5v2h1.5v-7h1.5v4h1.5v-17h1.5v17h1.5v1h1.5v-3h1.5v-1h1.5v-10h1.5v18h1.5v-4h1.5v-12h1.5v15h1.5v-1h1.5v-6h1.5v-32h1.5v33h1.5v3h3v2h1.5v-56h1.5v45h1.5v-4h1.5v9h1.5v3h1.5v-17h1.5v13h1.5v-2h1.5v1h1.5v9h1.5v-11h1.5v-29h1.5v39h3v2h1.5v4h1.5v-5h1.5v7h1.5v-2h1.5v-29h1.5v23h1.5v5h1.5v-13h1.5v15h1.5v-2h1.5v3h1.5v-12h1.5v17h1.5v-3h1.5v4h3v3h1.5v-1h1.5v1h1.5v-6h1.5v-6h1.5v-12h1.5v8h1.5v-1h1.5v-2h1.5v-3h1.5v10h1.5v-9h1.5v8h1.5v-12h1.5v-8h1.5v2h1.5v-2h1.5v-44h1.5v27h1.5v-27h1.5v37h1.5v5h1.5v12h1.5v-6h1.5v15h1.5v1h1.5v3h1.5v-3h1.5v2h1.5v1h1.5v4h1.5v-7h1.5v5h1.5v-1h1.5v-11h1.5v5h1.5v-1h1.5v-16h1.5v23h1.5v-3h1.5v-30h1.5v25h1.5v2h1.5v3h1.5v-1h1.5v-12h1.5v4h1.5v8h3v-3h1.5v1h1.5v-4h1.5v-14h1.5v10h1.5v-35h1.5v38h1.5v-19h1.5v21h1.5v-10h1.5v10h1.5v1h1.5v2h1.5v1h1.5v-2h1.5v4h1.5v-7h3v2h3v-5h1.5v6h1.5v-3h3v3h1.5v-3h1.5v-12h1.5v-10h1.5v-3h3v4h1.5v-17h1.5v16h1.5v9h1.5v3h1.5v1h1.5v6h1.5v1h1.5v1h1.5v-2h1.5v-1h1.5v-2h1.5v-1h1.5v-8h1.5v6h1.5v5h1.5v-6h1.5v1h1.5v-4h1.5v16h1.5v-9h1.5v1h1.5v4h1.5v-7h1.5v4h3v5h1.5v7h7.5v3h1.5v-3h1.5v5h1.5v-1h1.5v-1h3v-1h1.5v-1h1.5v4h1.5v1h1.5v2h1.5v-1h4.5v2h1.5v1h1.5v1h1.5v-1h3v-5h1.5v9h1.5v1h1.5v2h1.5v-3h1.5v2h1.5v-3h1.5v2h1.5v-1h1.5v-1h1.5v-1h4.5v-1h1.5v1h1.5v1h3v3h3v-4h1.5v1h1.5v-3h1.5v1h1.5v2h4.5v-1h1.5v-12h1.5v5h1.5v-17h1.5v27h1.5v-1h1.5v3h1.5v-2h3v-3h1.5v4h1.5v-10h1.5v9h1.5v-1h1.5v1h1.5v5h1.5v-7h1.5v-2h1.5v-2h1.5v-5h1.5v-1h1.5v-1h1.5v-8h1.5v8h1.5v3h1.5v-2h1.5v8h1.5v-1h1.5v1h1.5v-1h1.5v2h1.5v-2h1.5v-9h1.5v10h4.5v-3h1.5v-4h1.5v8h1.5v-2h1.5v1h3v-9h1.5v6h1.5v1h1.5v3h1.5v-6h1.5v-4h1.5v9h4.5v-1h1.5v3h1.5v-2h1.5v6h3v-5h1.5v-6h1.5v7h1.5v-8h1.5v6h1.5v-2h1.5v2h1.5v1h3v-1h1.5v-7h1.5v7h1.5v-1h1.5v-1h1.5v1h3v-1h1.5v-2h1.5v1h1.5v2h1.5v2h1.5v-3h1.5v4h1.5v-3h3v-2h1.5v1h1.5v1h1.5v-10h1.5v8h1.5v-1h3v6h1.5v-2h1.5v-4h1.5v1h6v-1h1.5v3h1.5v-6h1.5v5h1.5v-6h1.5v1h1.5v1h1.5v2h3v-2h1.5v4h1.5v-5h1.5v2h1.5v-3h3v-12h1.5v13h1.5v-2h1.5v2h1.5v3h3v1h1.5v-4h1.5v1h1.5v3h4.5v-2h1.5v-2h1.5v3h3v5h1.5v-5h1.5v-1h1.5v-3h1.5v4h1.5v1h1.5v2h1.5v1h1.5v3h1.5v-4h1.5v-4h1.5v-11h1.5v1h1.5v-9h1.5v8h1.5v1h1.5v-3h1.5v3h3v-1h1.5v1h3v5h1.5v-16h1.5v12h1.5v-8h1.5v-13h1.5v21h1.5v-2h1.5v1h1.5v1h1.5v2h1.5v-3h1.5v1h1.5v1h1.5v2h1.5v-6h1.5v6h1.5v2h1.5v3h1.5v2h1.5v-1h1.5v-3h1.5v2h1.5v-4h1.5v-7h1.5v4h1.5v-1h1.5v-2h1.5v3h1.5v-10h1.5v7h1.5v-2h1.5v7h1.5v1h1.5v-2h3v1h1.5v-2h1.5v5h1.5v-22h1.5v23h1.5v-1h3v2h1.5v2h1.5v-1h1.5v-1h1.5v6h1.5v-6h1.5v-5h1.5v7h3v-1h1.5v5h1.5v-1h1.5v-2h1.5v-6h1.5v10h3v-1h4.5v1h1.5v-4h1.5v1h1.5v3h1.5v-1h1.5v-1h1.5v4h3v-2h1.5v1h1.5v-2h1.5v1h1.5v-1h1.5v-2h1.5v4h4.5v-1h1.5v4h1.5v-1h1.5v-1h1.5v-1h1.5v1h1.5v-1h1.5v-1h1.5v1h4.5v-2h3v4h1.5v-8h1.5v-4h1.5v3h1.5v-2h1.5v-2h1.5v11h1.5v4h1.5v-2h1.5v-6h1.5v7h1.5v3h4.5v-1h1.5v1h1.5v-1h1.5v3h1.5v-2h1.5v-2h1.5v2h1.5v-2h1.5v1h3v1h1.5v-1h1.5v2h1.5v-1h1.5v-1h7.5v1h1.5v2h1.5v-2h1.5v-1h1.5v1h1.5v-1h6v-1h1.5v-1h1.5v-1h3v4h1.5v-3h3v-2h1.5v-2h1.5v-1h4.5v-2h3v1h1.5v2h1.5v-6h1.5v-1h4.5v4h1.5v-4h1.5v1h1.5v-3h1.5v8h1.5v-7h1.5v-3h1.5v-1h1.5v1h1.5v6h1.5v-11h1.5v4h1.5v3h1.5v5h1.5v1h1.5v-4h1.5v3h1.5v3h1.5v2h1.5v1h1.5v2h1.5v2h1.5v1h4.5v1h3v-2h1.5v3h6v-1h1.5v1h1.5v-1h6v-5h1.5v2h1.5v-1h3v-2h3v1h1.5v2h1.5v-5h1.5v-43h1.5v32h1.5v-12h1.5v19h3v-43h1.5v21h1.5v15h1.5v-22h1.5v19h1.5v2h1.5v-4h1.5v8h1.5v8h1.5v5h1.5v4h1.5v-1h4.5v4h1.5v-2h3v-1h1.5v-1h1.5v-1h1.5v-2h1.5v-1h1.5v-1h3v-7h1.5v7h1.5v-3h1.5v-1h1.5v-9h1.5v7h1.5v-6h1.5v2h1.5v6h1.5v-3h1.5v-1h1.5v-2h3v1h1.5v2h3v5h1.5v1h1.5v4h1.5v2h1.5v1h1.5v-1h3v-1h3v-2h1.5v2h1.5v-2h1.5v1h1.5v-2h3v1h1.5v-1h1.5v2h1.5v-3h1.5v2h3v1h1.5v-1h1.5v2h3v-1h4.5v2h1.5v-2h1.5v2h6v-5h1.5v7h1.5v-3h1.5v-8h1.5v8h1.5v-1h1.5v2h6v1h1.5v-7h1.5v-12h1.5v-1h1.5v5h1.5v1h1.5v-3h1.5v-10h1.5v7h1.5v-1h1.5v2h1.5v-2h1.5v2h1.5v-2h1.5v1h1.5v-12h1.5v13h1.5v-1h1.5v-10h1.5v5h1.5v-1h1.5v-1h1.5v3h1.5v-3h1.5v1h1.5v-4h1.5v7h1.5v-3h1.5v-2h1.5v-2h1.5v-1h1.5v-2h1.5v2h1.5v-3h1.5v3h3v2h1.5v5h1.5v-9h1.5v1h1.5v2h1.5v-6h1.5v1h3v-5h1.5v4h1.5v-1h1.5v-6h1.5v2h1.5v3h1.5v-2h1.5v1h1.5v-10h1.5v2h1.5v6h1.5v-6h1.5v9h1.5v-2h1.5v1h1.5v-7h1.5v5h1.5v2h1.5v-2h1.5v1h1.5v3h1.5v1h3v-13h1.5v17h1.5v-6h3v9h1.5v-4h1.5v5h1.5v1h1.5v1h1.5v4h1.5v-3h1.5v-2h1.5v3h1.5v20h1.5v-11h3v1h1.5v-1h1.5v-4h1.5v-1h1.5v-5h1.5v1h1.5v-1h3v-2h1.5v2h1.5v-3h3v4h1.5v-16h1.5v15h1.5v-1h1.5v-1h1.5v-7h1.5v9h1.5v-14h1.5v14h1.5v9h1.5v-3h1.5v-6h1.5v-8h1.5v18h1.5v-7h1.5v-3h1.5v7h1.5v1h1.5v-1h1.5v-12h1.5v-21h1.5v-11h1.5v7h1.5v-9h1.5v3h1.5v-4h3v16h1.5v-12h1.5v-32h1.5v3h1.5v-6h1.5v17h1.5v1h1.5v11h1.5v13h1.5v-27h1.5v38h1.5v-10h1.5v16h1.5v-15h1.5v5h1.5v11h1.5v2h1.5v-21h1.5v-18h1.5v-2h1.5v-9h1.5v17h1.5v-19h1.5v-29h1.5v56h1.5v-20h1.5v-7h1.5v-8h1.5v22h1.5v-14h1.5v-14h1.5v34h1.5v9h1.5v-47h1.5v14h1.5v11h1.5v-2h1.5v12h1.5v-10h1.5v17h1.5v-10h1.5v9h1.5v10h1.5v1h1.5v-15h1.5v13h1.5v-28h1.5v28h1.5v-25h1.5v11h1.5v18h1.5v-26h1.5v15h1.5v-18h1.5v5h1.5v5h1.5v8h1.5v-11h1.5v-25h1.5v-41h3v17h1.5v-7h1.5v28h1.5v14h1.5v-49h1.5v41h1.5v-15h1.5v-42h1.5v29h1.5v45h1.5v-50h1.5v-7h1.5v15h1.5v-3h1.5v-25h1.5v20h1.5v24h1.5v-17h1.5v10h1.5v-17h1.5v1h1.5v1h1.5v31h1.5v-1h1.5v8h1.5v-19h1.5v-26h1.5v22h1.5v3h1.5v-22h1.5v2h1.5v23h1.5v-11h1.5v-23h1.5v-2h1.5v23h1.5v-36h1.5v31h1.5v-32h1.5v6h1.5v5h1.5v12h1.5v45h1.5v-10h1.5v12h1.5v12h1.5v-1h1.5v12h1.5v2h1.5v-7h1.5v-6h1.5v16h1.5v6h1.5v7h1.5v-36h1.5v32h1.5v1h1.5v-18h1.5v24h1.5v-11h1.5v1h1.5v2h1.5v-38h1.5v43h1.5v-4h1.5v-20h1.5v21h1.5v-1h1.5v7h1.5v14h1.5v9h1.5v-13h1.5v9h1.5v-9h1.5v-12h1.5v25h1.5v-9h1.5v5h1.5v3h1.5v10h1.5v-7h1.5v-3h1.5v-34h1.5v-84h1.5v29h1.5v-123h1.5v36h1.5v62h1.5v18h1.5v51h1.5v-2h3v3h1.5v37h1.5v-2h1.5v1h1.5v-25h1.5v31h1.5v-31h1.5v28h1.5v10h1.5v-15h1.5v12h1.5v9h3v-16h1.5v12h3v1h1.5v4h1.5v-5h1.5v-2h1.5v-4h1.5v14h1.5v1h1.5v-4h1.5v-17h1.5v-39h1.5v-24h1.5v6h1.5v27h1.5v-6h1.5v-24h1.5v23h1.5v-9h1.5v7h1.5v24h1.5v2h1.5v12h1.5v4h1.5v-2h1.5v-1h1.5v7h1.5v-3h1.5v3h1.5v5h1.5v2h1.5v-3h1.5v-16h1.5v8h1.5v-3h1.5v4h1.5v-8h1.5v-8h1.5v5h1.5v3h1.5v-13h1.5v17h1.5v-1h1.5v9h1.5v4h1.5v3h1.5v2h1.5v1h1.5v-3h1.5v-1h1.5v5h1.5v-2h1.5v3h1.5v2h1.5v-6h1.5v-4h1.5v-4h1.5v-17h1.5v14h1.5v-18h1.5v-7h1.5v13h1.5v-5h1.5v1h1.5v5h1.5v-5h1.5v18h1.5v9h1.5v3h1.5v-3h1.5v5h1.5v2h1.5v-6h1.5v-2h1.5v-5h1.5v3h1.5v-11h1.5v-7h1.5v-6h1.5v12h1.5v16h1.5v-3h1.5v7h1.5v1h1.5v-2h1.5v-1h1.5v-3h1.5v6h1.5v-5h1.5v3h1.5v-15h1.5v15h1.5v-2h1.5v-2h1.5v-4h1.5v1h1.5v-4h1.5v4h1.5v-1h1.5v-1h1.5v3h1.5v7h1.5v3h4.5v-8h1.5v3h1.5v5h1.5v1h1.5v-1h1.5v1h1.5v-1h1.5v-1h1.5v1h1.5v1h1.5v1h4.5v-1h1.5v1h1.5v3h1.5v-105h1.5v103h1.5v-1h3v1h1.5v-2h1.5v-2h1.5v-4h1.5v-1h1.5v-4h1.5v-1h1.5v3h1.5v6h1.5v-1h1.5v2h1.5v-11h1.5v2h1.5v3h1.5v-2h1.5v-2h1.5v-13h1.5v17h1.5v-10h1.5v11h1.5v1h1.5v1h1.5v-6h1.5v-7h1.5v12h1.5v-3h1.5v2h1.5v-10h1.5v-2h1.5v-2h1.5v4h1.5v2h1.5v-6h1.5v2h1.5v-6h1.5v7h1.5v-2h1.5v1h1.5v-20h1.5v30h1.5v-6h3v-3h1.5v-4h1.5v6h1.5v4h1.5v-7h1.5v15h4.5v-1h1.5v-2h1.5v-3h1.5v-1h1.5v-3h1.5v-2h1.5v-3h1.5v-2h1.5v5h1.5v1h1.5v2h3v1h1.5v1h1.5v8h1.5v-13h1.5v-2h1.5v3h1.5v-6h1.5v-12h1.5v2h1.5v-11h1.5v-24h1.5v37h1.5v13h1.5v-10h1.5v5h1.5v3h3v-18h1.5v6h1.5v17h1.5v-1h1.5v-23h1.5v19h1.5v4h1.5v5h1.5v-3h1.5v-10h1.5v13h1.5v-7h1.5v-3h1.5v5h1.5v-11h1.5v2h1.5v-13h1.5v-4h1.5v-8h1.5v5h1.5v10h1.5v1h1.5v-1h1.5v-15h1.5v-9h1.5v26h1.5v2h1.5v8h1.5v11h1.5v-3h1.5v3h1.5v2h1.5v-2h1.5v8h1.5v-3h1.5v-1h1.5v5h1.5v-7h1.5v-1h1.5v1h1.5v-1h1.5v-8h1.5v1h1.5v3h1.5v-2h1.5v-1h1.5v-6h1.5v-1h1.5v9h3v-3h1.5v-4h4.5v-3h1.5v1h1.5v-7h1.5v1h1.5v-5h1.5v10h1.5v4h1.5v-3h1.5v-8h1.5v4h1.5v-20h1.5v25h3v-7h1.5v1h1.5v8h1.5v-3h1.5v2h1.5v6h1.5v-6h1.5v8h4.5v-7h1.5v-5h1.5v6h1.5v8h1.5v-19h1.5v11h1.5v-3h1.5v-7h1.5v6h1.5v-17h1.5v15h1.5v5h1.5v-1h1.5v-5h1.5v-5h1.5v11h1.5v-4h1.5v2h1.5v-5h1.5v14h1.5v4h1.5v-12h1.5v-2h1.5v-13h1.5v12h1.5v12h1.5v-3h1.5v-16h1.5v15h1.5v3h1.5v-3h1.5v-3h1.5v-1h1.5v-23h1.5v2h1.5v-21h1.5v8h1.5v5h1.5v-16h1.5v16h1.5v-20h1.5v4h1.5v13h1.5v16h1.5v-13h1.5v13h1.5v-6h1.5v-13h1.5v-30h1.5v-17h1.5v-18h1.5v11h1.5v14h1.5v10h1.5v16h1.5v-22h1.5v28h1.5v4h1.5v23h1.5v-25h1.5v20h1.5v-9h1.5v-5h1.5v1h1.5v-3h1.5v8h1.5v9h1.5v-10h1.5v9h1.5v-2h1.5v-11h1.5v-10h1.5v-45h1.5v18h1.5v-3h1.5v2h1.5v-9h3v-7h1.5v-1h1.5v-14h1.5v-10h1.5v-2h1.5v1h1.5v17h1.5v-6h1.5v-9h1.5V1022z"/><path fill="#cf3360" d="M151 1022v-10h1.5v-2h1.5v7h3v-7h1.5v-2h1.5v2h1.5v-3h1.5v1h1.5v-3h1.5v1h1.5v-2h1.5v-4h1.5v6h3v-4h1.5v7h1.5v1h1.5v-7h1.5v-4h1.5v1h1.5v6h1.5v-5h1.5v-2h1.5v-2h1.5v5h1.5v1h1.5v-6h1.5v5h1.5v-2h3v-1h1.5v2h1.5v2h1.5v-6h1.5v6h1.5v1h1.5v-8h1.5v4h1.5v6h1.5v-1h1.5v13h1.5v-11h1.5v1h1.5v-5h1.5v1h1.5v1h1.5v12h1.5v1h1.5v-13h1.5v4h1.5v-1h1.5v1h1.5v-2h1.5v1h1.5v3h1.5v-1h1.5v-5h1.5v5h1.5v8h1.5v-10h1.5v-5h1.5v3h3v1h1.5v-3h1.5v-5h1.5v-1h1.5v6h1.5v-10h1.5v5h1.5v3h1.5v-4h1.5v1h1.5v-1h3v-1h1.5v11h1.5v-8h1.5v-8h1.5v4h1.5v12h1.5v-17h1.5v-1h1.5v2h1.5v11h1.5v-12h1.5v2h1.5v-7h1.5v10h1.5v-7h1.5v-3h1.5v2h1.5v-9h1.5v3h1.5v3h1.5v3h1.5v-10h1.5v9h3v-8h1.5v5h1.5v-15h1.5v4h1.5v7h1.5v-19h1.5v-10h1.5v7h1.5v-14h1.5v-2h1.5v14h1.5v-2h1.5v5h1.5v-13h1.5v-1h1.5v5h1.5v11h1.5v1h1.5v40h1.5v-35h1.5v-1h1.5v4h1.5v-9h3v-2h1.5v3h1.5v12h1.5v-12h1.5v2h1.5v3h1.5v2h1.5v33h1.5v-16h1.5v-11h1.5v3h1.5v-11h1.5v16h1.5v-8h1.5v9h1.5v-12h3v15h1.5v-7h1.5v4h1.5v31h1.5v-40h1.5v-14h1.5v18h1.5v-16h1.5v9h1.5v-4h1.5v-5h1.5v-1h1.5v-1h1.5v3h1.5v-3h1.5v-1h1.5v29h1.5v-21h1.5v-6h1.5v7h1.5v-3h1.5v-2h1.5v-6h1.5v-6h1.5v6h1.5v17h1.5v20h1.5v-19h1.5v-7h1.5v20h1.5v1h1.5v7h1.5v-3h1.5v6h1.5v-3h1.5v-3h1.5v11h1.5v-12h1.5v2h1.5v-1h3v-4h1.5v2h1.5v2h1.5v-8h1.5v2h1.5v6h1.5v17h1.5v-20h1.5v6h1.5v-1h1.5v-4h1.5v2h1.5v2h1.5v-8h1.5v6h1.5v-6h1.5v11h1.5v2h1.5v-1h1.5v-6h1.5v2h1.5v-2h1.5v4h1.5v1h1.5v-4h1.5v4h1.5v-3h1.5v2h1.5v-1h1.5v-2h1.5v5h1.5v-5h1.5v3h1.5v-4h1.5v6h1.5v-9h1.5v9h1.5v-13h1.5v-6h1.5v-6h1.5v-1h1.5v-12h1.5v1h1.5v-11h1.5v53h1.5v-61h1.5v-18h1.5v14h1.5v-29h1.5v58h1.5v-38h1.5v-22h1.5v6h1.5v-7h1.5v19h1.5v8h1.5v-2h1.5v24h1.5v25h1.5v-28h1.5v-14h1.5v2h1.5v17h1.5v34h1.5v-32h1.5v4h1.5v31h3v-15h1.5v-5h1.5v5h1.5v-6h1.5v14h1.5v2h1.5v-4h1.5v7h1.5v15h1.5v-15h1.5v14h1.5v-14h1.5v21h1.5v-21h1.5v7h1.5v3h1.5v3h1.5v-8h1.5v-1h1.5v-1h1.5v9h1.5v-9h1.5v1h1.5v-1h1.5v-3h1.5v6h1.5v-9h1.5v20h1.5v-12h1.5v-2h1.5v3h1.5v3h1.5v1h1.5v8h1.5v-10h1.5v-2h1.5v16h1.5v-19h1.5v10h1.5v-10h1.5v-3h1.5v-12h1.5v10h1.5v1h1.5v-7h3v-6h1.5v6h1.5v-12h1.5v13h1.5v1h1.5v-6h1.5v6h1.5v2h1.5v8h1.5v12h1.5v-13h1.5v-1h1.5v-1h1.5v6h1.5v-1h1.5v18h1.5v-18h1.5v4h1.5v4h1.5v-1h1.5v3h1.5v-2h1.5v-1h1.5v-2h1.5v-1h1.5v1h1.5v1h1.5v-11h1.5v2h1.5v13h1.5v-5h1.5v-3h1.5v-2h1.5v-10h1.5v7h1.5v6h1.5v-1h1.5v-4h1.5v4h1.5v-3h1.5v2h1.5v4h3v-3h1.5v-1h1.5v10h1.5v-1h1.5v-4h1.5v5h1.5v-7h1.5v7h1.5v-5h1.5v-4h1.5v6h1.5v-1h1.5v-7h1.5v5h1.5v-1h1.5v-1h1.5v-1h1.5v3h1.5v-2h4.5v-2h1.5v-3h1.5v17h1.5v-18h1.5v6h1.5v8h1.5v-14h1.5v6h1.5v5h1.5v-5h1.5v1h1.5v11h1.5v-13h1.5v1h1.5v9h1.5v-8h1.5v8h1.5v-10h1.5v4h1.5v-2h1.5v2h1.5v6h1.5v-17h1.5v8h1.5v9h1.5v-9h1.5v1h1.5v1h1.5v-4h3v2h1.5v1h1.5v-4h1.5v-2h1.5v7h1.5v6h1.5v-6h1.5v-4h1.5v4h1.5v-2h1.5v-1h1.5v12h1.5v-2h1.5v-12h1.5v3h1.5v13h1.5v-13h1.5v9h1.5v-7h1.5v-1h1.5v-1h1.5v-3h1.5v4h1.5v-4h1.5v6h1.5v-3h1.5v-1h1.5v11h1.5v-1h1.5v3h1.5v-13h1.5v3h1.5v-2h3v-1h1.5v2h1.5v9h1.5v6h1.5v-12h1.5v7h1.5v-7h1.5v7h1.5v-11h1.5v6h1.5v-3h1.5v6h1.5v-2h1.5v-2h3v2h1.5v-2h1.5v-2h1.5v-2h1.5v9h1.5v-12h1.5v16h1.5v-15h1.5v9h1.5v4h1.5v-17h1.5v2h1.5v-1h1.5v-1h1.5v-16h1.5v32h1.5v-8h1.5v-27h1.5v8h3v2h1.5v8h1.5v17h1.5v-4h1.5v-11h1.5v1h1.5v13h1.5v4h3v-14h1.5v13h1.5v-12h1.5v1h1.5v13h1.5v-17h1.5v-2h1.5v13h1.5v6h1.5v-15h1.5v9h1.5v2h1.5v-11h3v2h1.5v3h1.5v-8h1.5v3h1.5v-3h1.5v1h1.5v1h1.5v-1h1.5v14h1.5v-11h1.5v6h1.5v-14h1.5v16h1.5v-8h1.5v-6h1.5v4h1.5v-1h1.5v-6h1.5v3h1.5v2h3v1h1.5v17h1.5v-14h3v6h1.5v-12h1.5v17h1.5v-14h3v2h1.5v-5h1.5v2h1.5v-5h1.5v2h3v1h1.5v-3h1.5v2h1.5v2h1.5v-9h1.5v7h1.5v3h1.5v1h1.5v1h1.5v-5h1.5v-5h1.5v8h1.5v-2h1.5v2h1.5v-5h3v1h1.5v4h1.5v-4h1.5v18h1.5v-14h1.5v2h3v1h1.5v-6h1.5v6h1.5v1h1.5v1h1.5v-3h1.5v5h1.5v-3h1.5v2h1.5v1h1.5v3h1.5v-3h1.5v2h1.5v7h1.5v-8h1.5v1h1.5v-1h1.5v2h1.5v4h1.5v-5h1.5v1h1.5v-1h1.5v1h1.5v-2h1.5v3h1.5v1h1.5v-2h1.5v1h4.5v1h1.5v-2h1.5v1h1.5v-1h1.5v3h1.5v-4h1.5v1h1.5v1h1.5v-2h1.5v1h1.5v-1h1.5v3h1.5v-3h1.5v2h1.5v2h1.5v-3h1.5v1h1.5v1h1.5v6h1.5v-5h1.5v-3h1.5v1h3v-2h1.5v-1h3v8h1.5v-5h1.5v-1h1.5v2h3v-2h1.5v6h1.5v-5h1.5v7h1.5v-2h1.5v-5h1.5v2h1.5v-1h1.5v-2h1.5v-1h1.5v2h1.5v-3h1.5v-1h1.5v1h1.5v-5h1.5v5h1.5v2h1.5v9h1.5v-6h1.5v-4h1.5v1h1.5v1h1.5v-1h3v2h1.5v-1h1.5v1h1.5v1h1.5v-2h1.5v3h1.5v-3h3v1h4.5v-1h4.5v2h1.5v2h1.5v-6h1.5v3h1.5v1h1.5v-1h3v2h1.5v5h1.5v-7h3v4h1.5v-3h3v-2h1.5v1h1.5v-2h1.5v2h1.5v1h1.5v-2h1.5v2h1.5v-1h1.5v-1h1.5v-2h1.5v3h1.5v-1h4.5v3h1.5v-2h3v-1h1.5v2h1.5v-2h3v1h4.5v2h1.5v-4h3v2h1.5v5h1.5v-4h1.5v-3h1.5v8h1.5v-7h6v1h3v-1h1.5v7h1.5v-7h3v-2h1.5v2h1.5v-1h1.5v2h4.5v-1h1.5v1h1.5v5h1.5v-5h1.5v-1h1.5v-1h1.5v1h1.5v-1h3v3h1.5v-2h1.5v1h1.5v-3h1.5v7h1.5v-6h1.5v-1h1.5v2h6v-1h4.5v1h1.5v1h1.5v4h1.5v-3h3v-2h1.5v-4h3v8h1.5v-8h3v-1h1.5v-2h1.5v5h1.5v-2h1.5v-1h1.5v1h1.5v1h1.5v1h1.5v-1h1.5v-2h1.5v14h1.5v-12h1.5v-1h3v-1h1.5v1h4.5v3h1.5v-2h1.5v8h1.5v-5h1.5v-2h1.5v2h1.5v-3h1.5v-1h1.5v2h1.5v5h1.5v3h1.5v-10h1.5v-1h3v1h1.5v1h1.5v8h1.5v-10h1.5v11h1.5v-12h1.5v3h1.5v-3h1.5v4h3v-2h3v8h1.5v-10h1.5v3h1.5v-1h1.5v2h1.5v10h1.5v-12h1.5v1h1.5v11h1.5v-11h1.5v7h1.5v4h1.5v-11h1.5v2h1.5v-1h1.5v-1h1.5v1h1.5v5h1.5v-3h4.5v-3h1.5v1h1.5v2h1.5v-1h1.5v1h1.5v2h1.5v-5h3v4h1.5v-1h1.5v-1h3v1h1.5v-1h7.5v1h1.5v-1h1.5v2h1.5v-4h1.5v4h1.5v-2h3v-1h3v-1h1.5v3h1.5v-1h4.5v1h1.5v-5h1.5v3h1.5v-1h3v2h1.5v1h1.5v1h3v6h1.5v-6h3v2h1.5v-2h1.5v2h1.5v-1h1.5v1h3v1h1.5v-3h1.5v2h3v-1h1.5v1h1.5v-2h3v1h1.5v1h1.5v-1h1.5v2h1.5v-1h4.5v-1h1.5v2h1.5v-2h1.5v-1h1.5v3h1.5v-2h1.5v-1h1.5v1h1.5v1h3v-2h1.5v-1h1.5v3h1.5v-1h4.5v-1h3v1h1.5v-4h1.5v3h3v-2h1.5v1h3v-2h1.5v2h1.5v-2h4.5v1h3v2h1.5v6h1.5v-8h1.5v-1h1.5v1h1.5v1h1.5v2h1.5v4h1.5v-5h1.5v-1h1.5v1h1.5v1h1.5v6h1.5v-6h3v2h4.5v-2h1.5v1h4.5v1h1.5v-1h1.5v1h1.5v1h1.5v-2h1.5v2h1.5v-1h3v-1h3v1h1.5v-1h1.5v-1h1.5v-3h1.5v1h1.5v1h3v-2h1.5v1h1.5v-2h4.5v-24h1.5v26h1.5v3h1.5v-10h1.5v1h1.5v-29h1.5v37h1.5v4h1.5v-4h1.5v-12h1.5v5h1.5v12h1.5v1h1.5v-12h1.5v3h1.5v2h3v2h1.5v3h1.5v-3h1.5v-2h1.5v2h1.5v-1h1.5v-2h1.5v1h3v-3h1.5v3h1.5v-2h1.5v3h1.5v-4h3v1h1.5v3h1.5v-3h1.5v8h1.5v-10h6v-2h1.5v-1h1.5v5h1.5v-3h1.5v-1h1.5v5h4.5v3h3v-3h1.5v7h1.5v-5h1.5v1h1.5v-1h3v-3h1.5v1h1.5v2h1.5v-4h1.5v2h1.5v1h1.5v-1h3v1h1.5v1h1.5v-1h4.5v1h1.5v-2h1.5v2h1.5v-2h1.5v1h3v1h1.5v-1h1.5v1h3v5h1.5v-5h1.5v-2h1.5v5h1.5v-3h1.5v-1h1.5v2h1.5v-1h1.5v-2h1.5v-1h1.5v8h1.5v-8h1.5v-4h3v3h1.5v-1h1.5v-4h1.5v9h1.5v-8h6v1h1.5v2h1.5v-4h1.5v12h1.5v-12h1.5v-4h1.5v19h1.5v-15h1.5v-4h1.5v4h1.5v-5h1.5v2h3v-2h1.5v-1h1.5v4h3v-8h1.5v5h1.5v-4h1.5v5h1.5v-2h1.5v2h1.5v-4h1.5v3h1.5v10h1.5v-16h1.5v3h1.5v19h1.5v-18h1.5v1h1.5v1h1.5v-2h3v-1h1.5v1h1.5v3h1.5v-4h1.5v-4h1.5v6h1.5v-6h1.5v1h1.5v3h1.5v-2h1.5v3h1.5v-1h1.5v2h1.5v-4h1.5v-2h1.5v6h1.5v-5h1.5v8h1.5v-2h1.5v1h1.5v-8h1.5v24h1.5v-19h1.5v6h1.5v-5h1.5v17h1.5v-15h1.5v6h1.5v-5h1.5v-1h1.5v10h1.5v-9h1.5v4h1.5v-2h1.5v3h3v6h1.5v-8h1.5v10h1.5v-13h1.5v2h1.5v-9h1.5v6h1.5v-1h1.5v2h1.5v-2h1.5v1h1.5v1h3v-5h1.5v1h1.5v6h1.5v-1h1.5v-4h1.5v-2h3v4h1.5v-5h1.5v6h1.5v-1h1.5v13h1.5v-9h1.5v-4h1.5v-2h1.5v2h3v4h1.5v-2h1.5v-5h1.5v-5h1.5v-8h1.5v1h1.5v-4h1.5v4h1.5v-5h1.5v4h1.5v-2h1.5v1h1.5v-2h3v8h1.5v2h1.5v-12h1.5v7h1.5v-1h1.5v21h1.5v-15h1.5v-11h1.5v15h1.5v-4h1.5v26h1.5v-21h1.5v1h1.5v-7h1.5v-8h1.5v-3h1.5v-7h1.5v12h1.5v22h1.5v-25h1.5v-4h1.5v6h1.5v7h1.5v-16h1.5v5h1.5v4h1.5v2h1.5v-1h3v2h1.5v-4h1.5v3h1.5v1h1.5v-7h1.5v28h1.5v-15h1.5v-8h1.5v-1h1.5v7h1.5v10h1.5v12h1.5v-21h1.5v-3h1.5v2h1.5v26h1.5v-32h1.5v11h1.5v16h1.5v-29h1.5v-6h1.5v6h1.5v1h1.5v4h1.5v-13h1.5v2h1.5v4h1.5v2h1.5v-12h1.5v1h1.5v-5h1.5v7h1.5v28h1.5v-24h1.5v37h1.5v-40h1.5v-13h1.5v4h1.5v18h1.5v-34h1.5v-1h1.5v10h1.5v5h1.5v-12h1.5v14h1.5v9h1.5v-2h1.5v2h1.5v7h1.5v-6h1.5v9h1.5v-2h1.5v-3h1.5v-8h1.5v8h1.5v-10h1.5v2h1.5v-4h1.5v7h1.5v-13h1.5v4h1.5v2h1.5v19h1.5v-17h1.5v1h1.5v-7h1.5v6h1.5v1h1.5v3h1.5v3h1.5v-11h1.5v14h1.5v-2h1.5v11h1.5v2h1.5v6h1.5v5h1.5v-4h1.5v-6h1.5v6h1.5v-1h1.5v2h1.5v2h1.5v15h1.5v-11h1.5v-15h1.5v9h1.5v-2h1.5v2h1.5v3h1.5v9h1.5v-15h1.5v6h1.5v9h1.5v3h1.5v-5h1.5v11h1.5v-12h3v6h1.5v-6h1.5v-1h1.5v3h1.5v-2h1.5v4h1.5v3h1.5v-5h1.5v1h1.5v-2h1.5v-2h1.5v-21h1.5v-9h1.5v-12h1.5v28h1.5v-1h1.5v-17h1.5v8h1.5v9h1.5v1h1.5v6h1.5v18h1.5v-11h1.5v6h1.5v-4h1.5v8h1.5v-6h1.5v7h1.5v-5h1.5v1h1.5v1h1.5v-3h1.5v2h1.5v-1h1.5v1h1.5v4h1.5v-7h1.5v8h1.5v-6h1.5v-1h1.5v-2h1.5v3h3v3h1.5v-2h1.5v-3h1.5v-6h1.5v-4h1.5v-1h3v-8h1.5v6h1.5v-7h1.5v2h1.5v9h1.5v5h3v2h1.5v8h1.5v-5h1.5v-4h1.5v2h1.5v-1h1.5v3h1.5v2h1.5v-3h1.5v-1h1.5v-1h1.5v-1h1.5v-3h1.5v1h1.5v1h1.5v-7h1.5v17h1.5v-11h1.5v-2h1.5v5h1.5v1h1.5v-2h1.5v3h1.5v-1h1.5v1h1.5v1h1.5v-1h1.5v2h3v-1h1.5v8h1.5v-6h3v-3h1.5v-2h1.5v8h1.5v-8h1.5v11h1.5v-2h1.5v-3h1.5v-7h1.5v1h1.5v-4h1.5v12h1.5v-9h1.5v5h3v1h4.5v-1h1.5v-1h1.5v-1h1.5v1h1.5v-2h1.5v-1h1.5v-4h1.5v1h1.5v6h4.5v1h3v-1h1.5v4h1.5v-2h1.5v-1h1.5v-2h1.5v7h1.5v-6h1.5v1h3v-2h1.5v1h1.5v-1h1.5v1h1.5v2h3v4h1.5v-3h1.5v-1h1.5v1h1.5v1h1.5v5h1.5v-7h1.5v1h1.5v1h1.5v-2h1.5v5h1.5v-4h1.5v-2h1.5v2h3v2h3v-4h1.5v1h3v4h1.5v-4h1.5v1h1.5v1h3v1h1.5v-2h3v-2h1.5v-1h1.5v3h1.5v-4h3v3h1.5v-1h1.5v1h1.5v-3h1.5v2h1.5v-1h1.5v-2h1.5v11h1.5v-4h1.5v-5h1.5v2h1.5v-2h1.5v1h1.5v-1h1.5v8h1.5v1h1.5v-10h3v1h1.5v5h1.5v-7h1.5v1h1.5v-3h1.5v1h1.5v9h1.5v-11h1.5v3h3v-1h1.5v1h1.5v7h1.5v-6h3v1h1.5v-1h1.5v-3h1.5v2h3v3h3v-1h4.5v1h1.5v-2h1.5v1h1.5v8h1.5v-9h1.5v-4h3v4h1.5v-3h1.5v1h1.5v-4h1.5v2h1.5v-3h1.5v7h1.5v6h1.5v-5h1.5v-5h1.5v-3h1.5v15h1.5v-19h3v12h1.5v-9h1.5v6h1.5v7h1.5v-13h1.5v5h1.5v12h1.5v-4h1.5v-2h1.5v-3h1.5v-4h1.5v10h1.5v-8h1.5v3h1.5v-3h1.5v-4h1.5v1h1.5v1h1.5v2h1.5v-2h1.5v2h1.5v-9h1.5v3h1.5v2h1.5v2h1.5v1h1.5v-6h1.5v-1h1.5v-3h1.5v-5h1.5v9h1.5v3h1.5v-1h1.5v12h1.5v-8h1.5v1h3v2h1.5v-1h4.5v6h1.5v-5h1.5v3h1.5v-3h1.5v1h3v1h1.5v4h1.5v-5h1.5v-6h1.5v5h1.5v-1h1.5v8h1.5v-9h3v2h1.5v-1h3v-1h3v-4h1.5v4h3v9h1.5v-15h1.5v7h3v-3h1.5v2h3v12h1.5v-12h1.5v-2h1.5v2h1.5v11h1.5v-12h1.5v1h1.5v-2h1.5v3h3v1h1.5v-1h1.5v-1h3v7h1.5v-7h3v1h1.5v-1h1.5v-4h1.5v-5h1.5v8h1.5v-1h3v1h6v-2h1.5v-1h1.5v2h1.5v14h1.5v-14h1.5v4h1.5v-3h1.5v2h1.5v3h1.5v-2h3v-1h1.5v7h1.5v-9h1.5v10h1.5v-10h1.5v9h1.5v-10h1.5v-13h1.5v5h1.5v-3h1.5v-10h1.5v4h1.5v-2h1.5v-2h1.5v10h1.5v-1h1.5v-4h1.5v9h1.5v-5h1.5v2h1.5v-6h3v-5h1.5v17h1.5v-32h1.5v11h1.5v-1h1.5v11h1.5v-4h1.5v18h1.5v-20h1.5v7h1.5v-1h1.5v1h1.5v1h1.5v-6h1.5v7h1.5v13h1.5v-15h1.5v-6h1.5v10h1.5v1h1.5v-4h1.5v20h1.5v-18h1.5v3h1.5v-5h1.5v-10h1.5v6h1.5v21h1.5v-28h1.5v-1h1.5v3h1.5v2h1.5v-6h4.5v-1h1.5v-1h1.5v3h1.5v-2h1.5V1022z"/></g><rect x="160" y="1016.2" width="2512" height="1.8" fill="#b84462" opacity="0.8"/><rect x="160" y="1018" width="2512" height="4.3" fill="#df2c5f"/><rect x="151" y="1022.5" width="2532" height="1.5" fill="#7f898c"/><rect x="151.7" y="1023.5" width="2.2" height="8.6" fill="#83858f"/><rect x="266.6" y="1023.5" width="2.2" height="8.6" fill="#83858f"/><rect x="381.5" y="1023.5" width="2.2" height="8.6" fill="#83858f"/><rect x="496.4" y="1023.5" width="2.2" height="8.6" fill="#83858f"/><rect x="611.3" y="1023.5" width="2.2" height="8.6" fill="#83858f"/><rect x="726.2" y="1023.5" width="2.2" height="8.6" fill="#83858f"/><rect x="841.2" y="1023.5" width="2.2" height="8.6" fill="#83858f"/><rect x="956.1" y="1023.5" width="2.2" height="8.6" fill="#83858f"/><rect x="1071.0" y="1023.5" width="2.2" height="8.6" fill="#83858f"/><rect x="1185.9" y="1023.5" width="2.2" height="8.6" fill="#83858f"/><rect x="1300.8" y="1023.5" width="2.2" height="8.6" fill="#83858f"/><rect x="1415.7" y="1023.5" width="2.2" height="8.6" fill="#83858f"/><rect x="1530.6" y="1023.5" width="2.2" height="8.6" fill="#83858f"/><rect x="1645.5" y="1023.5" width="2.2" height="8.6" fill="#83858f"/><rect x="1760.4" y="1023.5" width="2.2" height="8.6" fill="#83858f"/><rect x="1875.3" y="1023.5" width="2.2" height="8.6" fill="#83858f"/><rect x="1990.3" y="1023.5" width="2.2" height="8.6" fill="#83858f"/><rect x="2105.2" y="1023.5" width="2.2" height="8.6" fill="#83858f"/><rect x="2220.1" y="1023.5" width="2.2" height="8.6" fill="#83858f"/><rect x="2335.0" y="1023.5" width="2.2" height="8.6" fill="#83858f"/><rect x="2449.9" y="1023.5" width="2.2" height="8.6" fill="#83858f"/><rect x="2564.8" y="1023.5" width="2.2" height="8.6" fill="#83858f"/><rect x="2679.7" y="1023.5" width="2.2" height="8.6" fill="#83858f"/><g font-family="'Liberation Sans','Noto Sans CJK SC',sans-serif" font-size="24" fill="#84868f"><text x="135.3" y="241.2" text-anchor="end" font-size="24.6" textLength="86.8" lengthAdjust="spacingAndGlyphs">3k s/vB</text><text x="135.3" y="399.2" text-anchor="end" font-size="24.6" textLength="86.8" lengthAdjust="spacingAndGlyphs">2k s/vB</text><text x="135.3" y="557.2" text-anchor="end" font-size="24.6" textLength="86.8" lengthAdjust="spacingAndGlyphs">2k s/vB</text><text x="135.3" y="715.2" text-anchor="end" font-size="24.6" textLength="82.8" lengthAdjust="spacingAndGlyphs">1k s/vB</text><text x="135.3" y="873.2" text-anchor="end" font-size="24.6" textLength="102.8" lengthAdjust="spacingAndGlyphs">500 s/vB</text><text x="135.3" y="1031.2" text-anchor="end" font-size="24.6" textLength="73.8" lengthAdjust="spacingAndGlyphs">0 s/vB</text><text x="108.1 117.4 129.6 149.7 160.6 173.8" y="1058.3" font-size="22">11月14日</text><text x="223.0 232.3 244.5 264.6 275.5 288.7" y="1058.3" font-size="22">11月15日</text><text x="337.9 347.2 359.4 379.5 390.4 403.6" y="1058.3" font-size="22">11月17日</text><text x="452.8 462.1 474.3 494.4 505.3 518.5" y="1058.3" font-size="22">11月18日</text><text x="565.9 575.2 587.4 609.1 622.0 635.2" y="1058.3" font-size="22">11月20日</text><text x="682.6 691.9 704.1 725.8 737.1 748.3" y="1058.3" font-size="22">11月21日</text><text x="795.8 805.1 817.3 839.0 851.9 865.1" y="1058.3" font-size="22">11月22日</text><text x="910.7 920.0 932.2 953.9 966.8 980.0" y="1058.3" font-size="22">11月24日</text><text x="1025.6 1034.9 1047.1 1068.8 1081.7 1094.9" y="1058.3" font-size="22">11月25日</text><text x="1140.5 1149.8 1162.0 1183.7 1196.6 1209.8" y="1058.3" font-size="22">11月26日</text><text x="1255.4 1264.7 1276.9 1298.6 1311.5 1324.7" y="1058.3" font-size="22">11月28日</text><text x="1370.3 1379.6 1391.8 1413.5 1426.4 1439.6" y="1058.3" font-size="22">11月29日</text><text x="1485.2 1494.5 1506.7 1528.4 1541.3 1554.5" y="1058.3" font-size="22">11月30日</text><text x="1604.8 1615.7 1629.9 1651.6 1664.8" y="1058.3" font-size="22">12月2日</text><text x="1719.7 1730.6 1744.8 1766.5 1779.7" y="1058.3" font-size="22">12月3日</text><text x="1834.6 1845.5 1859.7 1881.4 1894.6" y="1058.3" font-size="22">12月4日</text><text x="1949.5 1960.4 1974.6 1996.3 2009.5" y="1058.3" font-size="22">12月6日</text><text x="2064.4 2075.3 2089.5 2111.2 2124.4" y="1058.3" font-size="22">12月7日</text><text x="2179.3 2190.2 2204.4 2226.1 2239.3" y="1058.3" font-size="22">12月9日</text><text x="2289.6 2300.5 2314.7 2334.8 2345.7 2358.9" y="1058.3" font-size="22">12月10日</text><text x="2406.3 2417.2 2431.4 2451.5 2460.8 2472.0" y="1058.3" font-size="22">12月11日</text><text x="2519.4 2530.3 2544.5 2564.6 2575.5 2588.7" y="1058.3" font-size="22">12月13日</text><text x="2634.3 2645.2 2659.4 2679.5 2690.4 2703.6" y="1058.3" font-size="22">12月14日</text><text x="1380.0 1392.9 1405.8 1418.7 1431.8" y="1092.3" font-size="22">2023年</text></g><g font-family="'Liberation Sans',sans-serif" font-size="24"><rect x="934" y="152" width="50" height="28" rx="7" ry="7" fill="#cf3360"/><text x="994" y="174.5" fill="#ffffff" stroke="#ffffff" stroke-width="0.5" textLength="41" lengthAdjust="spacingAndGlyphs">Min</text><rect x="1055" y="152" width="50" height="28" rx="7" ry="7" fill="#8a2ea6"/><text x="1115" y="174.5" fill="#ffffff" stroke="#ffffff" stroke-width="0.5" textLength="45" lengthAdjust="spacingAndGlyphs">10th</text><rect x="1181" y="152" width="50" height="28" rx="7" ry="7" fill="#4285dd"/><text x="1240.5" y="174.5" fill="#ffffff" stroke="#ffffff" stroke-width="0.5" textLength="50" lengthAdjust="spacingAndGlyphs">25th</text><rect x="1311.5" y="152" width="50" height="28" rx="7" ry="7" fill="#8db554"/><text x="1371" y="174.5" fill="#ffffff" stroke="#ffffff" stroke-width="0.5" textLength="81" lengthAdjust="spacingAndGlyphs">Median</text><rect x="1473" y="152" width="50" height="28" rx="7" ry="7" fill="#f5d552"/><text x="1532.5" y="174.5" fill="#ffffff" stroke="#ffffff" stroke-width="0.5" textLength="49" lengthAdjust="spacingAndGlyphs">75th</text><rect x="1602.5" y="152" width="50" height="28" rx="7" ry="7" fill="#6e4f43"/><text x="1661.5" y="174.5" fill="#ffffff" stroke="#ffffff" stroke-width="0.5" textLength="51" lengthAdjust="spacingAndGlyphs">90th</text><rect x="1733" y="152" width="50" height="28" rx="7" ry="7" fill="#6e7079"/><text x="1793" y="174.5" fill="#6e7079" stroke="#6e7079" stroke-width="0.5" textLength="46" lengthAdjust="spacingAndGlyphs">Max</text></g><g transform="translate(223.7,42) scale(0.0635)" fill="#fff"><path d="M288 32c0-17.700-14.300-32-32-32s-32 14.300-32 32V274.700l-73.400-73.400c-12.500-12.500-32.800-12.500-45.300 0s-12.500 32.800 0 45.300l128 128c12.500 12.500 32.800 12.500 45.300 0l128-128c12.500-12.500 12.500-32.800 0-45.300s-32.800-12.500-45.300 0L288 274.700V32zM64 352c-35.300 0-64 28.700-64 64v32c0 35.300 28.700 64 64 64H448c35.300 0 64-28.700 64-64V416c0-35.300-28.700-64-64-64H346.500l-45.300 45.300c-25 25-65.500 25-90.500 0L165.500 352H64zm368 56a24 24 0 1 1 0 48 24 24 0 1 1 0-48z"/></g></svg>
</body></html>
